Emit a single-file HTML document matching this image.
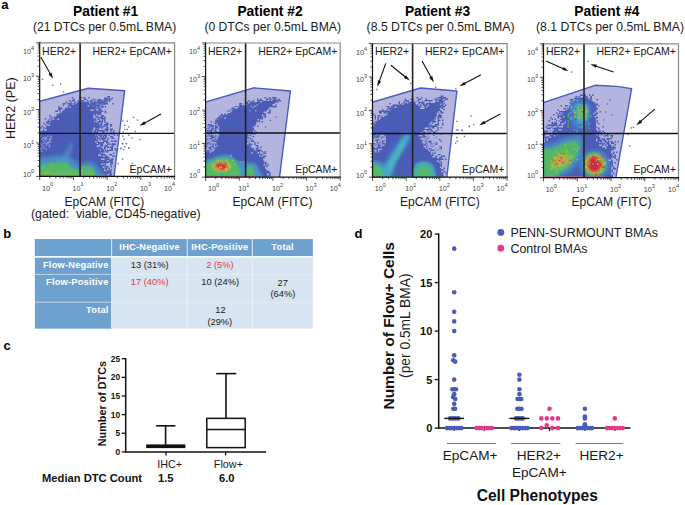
<!DOCTYPE html><html><head><meta charset="utf-8"><style>html,body{margin:0;padding:0;background:#fff;width:685px;height:505px;overflow:hidden}svg{display:block}text{font-family:"Liberation Sans",sans-serif}</style></head><body>
<svg width="685" height="505" viewBox="0 0 685 505">
<defs>
<filter id="b1" x="-20%" y="-20%" width="140%" height="140%"><feGaussianBlur stdDeviation="1"/></filter>
<filter id="b2" x="-30%" y="-30%" width="160%" height="160%"><feGaussianBlur stdDeviation="2"/></filter>
<filter id="b3" x="-30%" y="-30%" width="160%" height="160%"><feGaussianBlur stdDeviation="3"/></filter>
<marker id="ah" viewBox="0 0 10 10" refX="10" refY="5" markerWidth="6" markerHeight="6" markerUnits="userSpaceOnUse" orient="auto"><path d="M0,1 L10,5 L0,9 z" fill="#111"/></marker>
<clipPath id="cp0"><rect x="39.7" y="42.8" width="134.89999999999998" height="133.60000000000002"/></clipPath>
<clipPath id="cp1"><rect x="205.6" y="43.0" width="134.6" height="134.1"/></clipPath>
<clipPath id="cp2"><rect x="372.5" y="43.6" width="134.60000000000002" height="133.6"/></clipPath>
<clipPath id="cp3"><rect x="543.5" y="43.8" width="135.0" height="133.89999999999998"/></clipPath>
</defs>
<text x="1.20" y="9.00" font-size="13" font-weight="bold" text-anchor="start" fill="#000" >a</text>
<text x="3.20" y="238.40" font-size="13" font-weight="bold" text-anchor="start" fill="#000" >b</text>
<text x="3.60" y="350.30" font-size="13" font-weight="bold" text-anchor="start" fill="#000" >c</text>
<text x="354.40" y="238.40" font-size="13" font-weight="bold" text-anchor="start" fill="#000" >d</text>
<text x="105.60" y="15.90" font-size="13.8" font-weight="bold" text-anchor="middle" fill="#000" >Patient #1</text>
<text x="104.60" y="31.40" font-size="12.15" font-weight="normal" text-anchor="middle" fill="#1a1a1a" >(21 DTCs per 0.5mL BMA)</text>
<g clip-path="url(#cp0)">
<polygon points="38.7,101.6 88.3,88.3 124.6,90.8 113.8,178.4 38.7,178.4" fill="#b4b5de" stroke="#4b5bbd" stroke-width="1.4" stroke-linejoin="round"/>
<g fill="#4a5cb6" opacity="1.0"><rect x="71.7" y="97.0" width="1.50" height="1.5"/><rect x="79.2" y="97.0" width="3.00" height="1.5"/><rect x="83.7" y="97.0" width="1.50" height="1.5"/><rect x="88.2" y="97.0" width="1.50" height="1.5"/><rect x="73.2" y="98.5" width="1.50" height="1.5"/><rect x="83.7" y="98.5" width="3.00" height="1.5"/><rect x="92.7" y="98.5" width="1.50" height="1.5"/><rect x="109.2" y="98.5" width="1.50" height="1.5"/><rect x="68.7" y="100.0" width="1.50" height="1.5"/><rect x="71.7" y="100.0" width="3.00" height="1.5"/><rect x="77.7" y="100.0" width="1.50" height="1.5"/><rect x="80.7" y="100.0" width="3.00" height="1.5"/><rect x="86.7" y="100.0" width="1.50" height="1.5"/><rect x="89.7" y="100.0" width="3.00" height="1.5"/><rect x="97.2" y="100.0" width="3.00" height="1.5"/><rect x="65.7" y="101.5" width="1.50" height="1.5"/><rect x="70.2" y="101.5" width="1.50" height="1.5"/><rect x="74.7" y="101.5" width="1.50" height="1.5"/><rect x="88.2" y="101.5" width="4.50" height="1.5"/><rect x="94.2" y="101.5" width="1.50" height="1.5"/><rect x="106.2" y="101.5" width="1.50" height="1.5"/><rect x="62.7" y="103.0" width="3.00" height="1.5"/><rect x="67.2" y="103.0" width="4.50" height="1.5"/><rect x="91.2" y="103.0" width="4.50" height="1.5"/><rect x="103.2" y="103.0" width="4.50" height="1.5"/><rect x="112.2" y="103.0" width="1.50" height="1.5"/><rect x="62.7" y="104.5" width="1.50" height="1.5"/><rect x="58.2" y="106.0" width="1.50" height="1.5"/><rect x="94.2" y="106.0" width="1.50" height="1.5"/><rect x="101.7" y="106.0" width="1.50" height="1.5"/><rect x="104.7" y="106.0" width="1.50" height="1.5"/><rect x="58.2" y="107.5" width="4.50" height="1.5"/><rect x="94.2" y="107.5" width="3.00" height="1.5"/><rect x="58.2" y="109.0" width="3.00" height="1.5"/><rect x="98.7" y="109.0" width="3.00" height="1.5"/><rect x="55.2" y="110.5" width="3.00" height="1.5"/><rect x="59.7" y="110.5" width="1.50" height="1.5"/><rect x="94.2" y="110.5" width="4.50" height="1.5"/><rect x="100.2" y="110.5" width="3.00" height="1.5"/><rect x="104.7" y="110.5" width="1.50" height="1.5"/><rect x="94.2" y="112.0" width="7.50" height="1.5"/><rect x="104.7" y="112.0" width="1.50" height="1.5"/><rect x="56.7" y="113.5" width="1.50" height="1.5"/><rect x="97.2" y="113.5" width="3.00" height="1.5"/><rect x="49.2" y="115.0" width="1.50" height="1.5"/><rect x="94.2" y="115.0" width="1.50" height="1.5"/><rect x="50.7" y="116.5" width="1.50" height="1.5"/><rect x="53.7" y="116.5" width="1.50" height="1.5"/><rect x="95.7" y="116.5" width="3.00" height="1.5"/><rect x="100.2" y="116.5" width="3.00" height="1.5"/><rect x="44.7" y="118.0" width="1.50" height="1.5"/><rect x="49.2" y="118.0" width="1.50" height="1.5"/><rect x="52.2" y="118.0" width="1.50" height="1.5"/><rect x="94.2" y="118.0" width="1.50" height="1.5"/><rect x="98.7" y="118.0" width="1.50" height="1.5"/><rect x="47.7" y="119.5" width="1.50" height="1.5"/><rect x="50.7" y="119.5" width="1.50" height="1.5"/><rect x="94.2" y="119.5" width="1.50" height="1.5"/><rect x="101.7" y="119.5" width="1.50" height="1.5"/><rect x="46.2" y="121.0" width="4.50" height="1.5"/><rect x="95.7" y="121.0" width="1.50" height="1.5"/><rect x="98.7" y="121.0" width="4.50" height="1.5"/><rect x="43.2" y="122.5" width="1.50" height="1.5"/><rect x="46.2" y="122.5" width="3.00" height="1.5"/><rect x="94.2" y="122.5" width="6.00" height="1.5"/><rect x="44.7" y="124.0" width="1.50" height="1.5"/><rect x="94.2" y="124.0" width="3.00" height="1.5"/><rect x="98.7" y="124.0" width="3.00" height="1.5"/><rect x="106.2" y="124.0" width="1.50" height="1.5"/><rect x="110.7" y="124.0" width="1.50" height="1.5"/><rect x="41.7" y="125.5" width="1.50" height="1.5"/><rect x="46.2" y="125.5" width="1.50" height="1.5"/><rect x="94.2" y="125.5" width="7.50" height="1.5"/><rect x="106.2" y="125.5" width="1.50" height="1.5"/><rect x="40.2" y="127.0" width="1.50" height="1.5"/><rect x="43.2" y="127.0" width="1.50" height="1.5"/><rect x="94.2" y="127.0" width="6.00" height="1.5"/><rect x="101.7" y="127.0" width="1.50" height="1.5"/><rect x="106.2" y="127.0" width="1.50" height="1.5"/><rect x="38.7" y="128.5" width="1.50" height="1.5"/><rect x="43.2" y="128.5" width="1.50" height="1.5"/><rect x="95.7" y="128.5" width="3.00" height="1.5"/><rect x="104.7" y="128.5" width="1.50" height="1.5"/><rect x="94.2" y="130.0" width="1.50" height="1.5"/><rect x="97.2" y="130.0" width="7.50" height="1.5"/><rect x="94.2" y="131.5" width="1.50" height="1.5"/><rect x="103.2" y="131.5" width="1.50" height="1.5"/><rect x="110.7" y="131.5" width="1.50" height="1.5"/><rect x="95.7" y="133.0" width="3.00" height="1.5"/><rect x="106.2" y="133.0" width="1.50" height="1.5"/><rect x="110.7" y="133.0" width="1.50" height="1.5"/><rect x="95.7" y="134.5" width="1.50" height="1.5"/><rect x="98.7" y="134.5" width="3.00" height="1.5"/><rect x="103.2" y="134.5" width="3.00" height="1.5"/><rect x="113.7" y="134.5" width="1.50" height="1.5"/><rect x="116.7" y="134.5" width="1.50" height="1.5"/><rect x="95.7" y="136.0" width="1.50" height="1.5"/><rect x="100.2" y="136.0" width="1.50" height="1.5"/><rect x="104.7" y="136.0" width="1.50" height="1.5"/><rect x="97.2" y="137.5" width="3.00" height="1.5"/><rect x="101.7" y="137.5" width="4.50" height="1.5"/><rect x="107.7" y="137.5" width="1.50" height="1.5"/><rect x="101.7" y="139.0" width="3.00" height="1.5"/><rect x="97.2" y="140.5" width="1.50" height="1.5"/><rect x="103.2" y="140.5" width="4.50" height="1.5"/><rect x="110.7" y="140.5" width="1.50" height="1.5"/><rect x="113.7" y="140.5" width="3.00" height="1.5"/><rect x="97.2" y="142.0" width="6.00" height="1.5"/><rect x="106.2" y="142.0" width="3.00" height="1.5"/><rect x="97.2" y="143.5" width="1.50" height="1.5"/><rect x="100.2" y="143.5" width="3.00" height="1.5"/><rect x="109.2" y="143.5" width="1.50" height="1.5"/><rect x="112.2" y="143.5" width="3.00" height="1.5"/><rect x="100.2" y="145.0" width="3.00" height="1.5"/><rect x="104.7" y="145.0" width="3.00" height="1.5"/><rect x="112.2" y="145.0" width="1.50" height="1.5"/><rect x="98.7" y="146.5" width="1.50" height="1.5"/><rect x="104.7" y="146.5" width="1.50" height="1.5"/><rect x="107.7" y="146.5" width="1.50" height="1.5"/><rect x="98.7" y="148.0" width="4.50" height="1.5"/><rect x="110.7" y="148.0" width="1.50" height="1.5"/><rect x="116.7" y="148.0" width="1.50" height="1.5"/><rect x="98.7" y="149.5" width="1.50" height="1.5"/><rect x="104.7" y="149.5" width="1.50" height="1.5"/><rect x="109.2" y="149.5" width="3.00" height="1.5"/><rect x="115.2" y="149.5" width="1.50" height="1.5"/><rect x="100.2" y="151.0" width="4.50" height="1.5"/><rect x="101.7" y="152.5" width="1.50" height="1.5"/><rect x="100.2" y="154.0" width="4.50" height="1.5"/><rect x="109.2" y="154.0" width="3.00" height="1.5"/><rect x="100.2" y="155.5" width="3.00" height="1.5"/><rect x="104.7" y="155.5" width="3.00" height="1.5"/><rect x="112.2" y="155.5" width="3.00" height="1.5"/><rect x="100.2" y="157.0" width="9.00" height="1.5"/><rect x="104.7" y="158.5" width="1.50" height="1.5"/><rect x="110.7" y="158.5" width="3.00" height="1.5"/><rect x="101.7" y="160.0" width="4.50" height="1.5"/><rect x="109.2" y="160.0" width="3.00" height="1.5"/><rect x="101.7" y="161.5" width="7.50" height="1.5"/><rect x="101.7" y="163.0" width="1.50" height="1.5"/><rect x="104.7" y="163.0" width="1.50" height="1.5"/><rect x="110.7" y="163.0" width="1.50" height="1.5"/><rect x="103.2" y="164.5" width="3.00" height="1.5"/><rect x="103.2" y="166.0" width="1.50" height="1.5"/><rect x="106.2" y="166.0" width="1.50" height="1.5"/><rect x="110.7" y="166.0" width="1.50" height="1.5"/><rect x="104.7" y="167.5" width="3.00" height="1.5"/><rect x="104.7" y="169.0" width="1.50" height="1.5"/><rect x="110.7" y="169.0" width="1.50" height="1.5"/><rect x="106.2" y="170.5" width="4.50" height="1.5"/><rect x="106.2" y="172.0" width="4.50" height="1.5"/><rect x="106.2" y="173.5" width="1.50" height="1.5"/><rect x="109.2" y="173.5" width="3.00" height="1.5"/><rect x="107.7" y="176.5" width="4.50" height="1.5"/></g>
<g fill="#4a5cb6" opacity="1.0"><rect x="99.5" y="113.5" width="1.50" height="1.5"/><rect x="101.0" y="115.0" width="3.00" height="1.5"/><rect x="96.5" y="116.5" width="3.00" height="1.5"/><rect x="101.0" y="116.5" width="1.50" height="1.5"/><rect x="104.0" y="116.5" width="1.50" height="1.5"/><rect x="95.0" y="118.0" width="1.50" height="1.5"/><rect x="101.0" y="118.0" width="4.50" height="1.5"/><rect x="104.0" y="119.5" width="1.50" height="1.5"/><rect x="104.0" y="121.0" width="1.50" height="1.5"/><rect x="101.0" y="122.5" width="1.50" height="1.5"/><rect x="105.5" y="122.5" width="3.00" height="1.5"/><rect x="95.0" y="124.0" width="1.50" height="1.5"/><rect x="101.0" y="124.0" width="1.50" height="1.5"/><rect x="104.0" y="124.0" width="4.50" height="1.5"/><rect x="110.0" y="124.0" width="1.50" height="1.5"/><rect x="102.5" y="125.5" width="3.00" height="1.5"/><rect x="110.0" y="125.5" width="1.50" height="1.5"/><rect x="101.0" y="127.0" width="1.50" height="1.5"/><rect x="107.0" y="127.0" width="1.50" height="1.5"/><rect x="95.0" y="128.5" width="1.50" height="1.5"/><rect x="105.5" y="128.5" width="3.00" height="1.5"/><rect x="110.0" y="128.5" width="3.00" height="1.5"/><rect x="95.0" y="130.0" width="1.50" height="1.5"/><rect x="101.0" y="130.0" width="1.50" height="1.5"/><rect x="105.5" y="130.0" width="3.00" height="1.5"/><rect x="110.0" y="130.0" width="1.50" height="1.5"/><rect x="113.0" y="130.0" width="1.50" height="1.5"/><rect x="96.5" y="131.5" width="1.50" height="1.5"/><rect x="102.5" y="131.5" width="1.50" height="1.5"/><rect x="113.0" y="131.5" width="1.50" height="1.5"/><rect x="95.0" y="133.0" width="1.50" height="1.5"/><rect x="101.0" y="133.0" width="1.50" height="1.5"/><rect x="105.5" y="133.0" width="1.50" height="1.5"/><rect x="110.0" y="133.0" width="4.50" height="1.5"/><rect x="98.0" y="134.5" width="1.50" height="1.5"/><rect x="101.0" y="134.5" width="1.50" height="1.5"/><rect x="105.5" y="134.5" width="1.50" height="1.5"/><rect x="108.5" y="134.5" width="1.50" height="1.5"/><rect x="96.5" y="136.0" width="1.50" height="1.5"/><rect x="99.5" y="136.0" width="1.50" height="1.5"/><rect x="102.5" y="136.0" width="1.50" height="1.5"/><rect x="105.5" y="136.0" width="1.50" height="1.5"/><rect x="110.0" y="136.0" width="3.00" height="1.5"/><rect x="101.0" y="137.5" width="1.50" height="1.5"/><rect x="104.0" y="137.5" width="1.50" height="1.5"/><rect x="111.5" y="137.5" width="3.00" height="1.5"/><rect x="96.5" y="139.0" width="1.50" height="1.5"/><rect x="99.5" y="139.0" width="1.50" height="1.5"/><rect x="107.0" y="139.0" width="1.50" height="1.5"/><rect x="104.0" y="140.5" width="3.00" height="1.5"/><rect x="111.5" y="140.5" width="1.50" height="1.5"/><rect x="114.5" y="140.5" width="1.50" height="1.5"/><rect x="96.5" y="142.0" width="4.50" height="1.5"/><rect x="102.5" y="142.0" width="1.50" height="1.5"/><rect x="98.0" y="143.5" width="1.50" height="1.5"/><rect x="101.0" y="143.5" width="1.50" height="1.5"/><rect x="107.0" y="143.5" width="1.50" height="1.5"/><rect x="111.5" y="143.5" width="4.50" height="1.5"/><rect x="101.0" y="145.0" width="1.50" height="1.5"/><rect x="111.5" y="145.0" width="1.50" height="1.5"/><rect x="99.5" y="146.5" width="1.50" height="1.5"/><rect x="104.0" y="146.5" width="1.50" height="1.5"/><rect x="107.0" y="146.5" width="1.50" height="1.5"/><rect x="110.0" y="146.5" width="3.00" height="1.5"/><rect x="104.0" y="148.0" width="1.50" height="1.5"/><rect x="111.5" y="148.0" width="1.50" height="1.5"/><rect x="114.5" y="148.0" width="1.50" height="1.5"/><rect x="101.0" y="149.5" width="3.00" height="1.5"/><rect x="107.0" y="149.5" width="1.50" height="1.5"/><rect x="111.5" y="149.5" width="1.50" height="1.5"/><rect x="99.5" y="151.0" width="1.50" height="1.5"/><rect x="105.5" y="151.0" width="3.00" height="1.5"/><rect x="99.5" y="152.5" width="1.50" height="1.5"/><rect x="113.0" y="152.5" width="1.50" height="1.5"/><rect x="99.5" y="154.0" width="1.50" height="1.5"/><rect x="104.0" y="154.0" width="1.50" height="1.5"/><rect x="104.0" y="157.0" width="1.50" height="1.5"/><rect x="105.5" y="158.5" width="4.50" height="1.5"/><rect x="111.5" y="158.5" width="1.50" height="1.5"/><rect x="101.0" y="160.0" width="1.50" height="1.5"/><rect x="104.0" y="160.0" width="3.00" height="1.5"/><rect x="108.5" y="160.0" width="4.50" height="1.5"/><rect x="101.0" y="161.5" width="1.50" height="1.5"/><rect x="104.0" y="161.5" width="4.50" height="1.5"/><rect x="110.0" y="161.5" width="3.00" height="1.5"/><rect x="111.5" y="163.0" width="1.50" height="1.5"/><rect x="102.5" y="164.5" width="1.50" height="1.5"/><rect x="110.0" y="164.5" width="1.50" height="1.5"/><rect x="105.5" y="166.0" width="3.00" height="1.5"/><rect x="102.5" y="167.5" width="1.50" height="1.5"/><rect x="105.5" y="167.5" width="1.50" height="1.5"/><rect x="108.5" y="167.5" width="1.50" height="1.5"/><rect x="102.5" y="169.0" width="1.50" height="1.5"/><rect x="105.5" y="169.0" width="1.50" height="1.5"/><rect x="108.5" y="169.0" width="1.50" height="1.5"/><rect x="102.5" y="170.5" width="1.50" height="1.5"/><rect x="110.0" y="170.5" width="1.50" height="1.5"/><rect x="107.0" y="172.0" width="1.50" height="1.5"/><rect x="110.0" y="172.0" width="1.50" height="1.5"/><rect x="104.0" y="173.5" width="1.50" height="1.5"/><rect x="104.0" y="175.0" width="3.00" height="1.5"/><rect x="108.5" y="175.0" width="3.00" height="1.5"/></g>
<polygon points="38.7,132.0 43.5,130.0 47.9,125.5 52.5,119.5 57.8,114.7 62.5,110.0 67.7,105.7 72.5,103.3 77.6,101.8 82.0,101.5 86.0,101.8 89.5,102.5 92.3,104.0 94.2,107.0 94.5,114.0 94.0,122.0 95.0,133.5 98.0,145.0 100.8,157.7 103.0,166.0 106.0,172.0 108.0,178.4 38.7,178.4" fill="#4a5cb6"/>
<g fill="#b4b5de" opacity="1.0"><rect x="75.5" y="102.0" width="1.50" height="1.5"/><rect x="89.0" y="102.0" width="1.50" height="1.5"/><rect x="72.5" y="103.5" width="1.50" height="1.5"/><rect x="90.5" y="103.5" width="1.50" height="1.5"/><rect x="87.5" y="105.0" width="1.50" height="1.5"/><rect x="66.5" y="106.5" width="1.50" height="1.5"/><rect x="69.5" y="106.5" width="1.50" height="1.5"/><rect x="92.0" y="106.5" width="1.50" height="1.5"/><rect x="63.5" y="108.0" width="1.50" height="1.5"/><rect x="62.0" y="109.5" width="1.50" height="1.5"/><rect x="90.5" y="109.5" width="4.50" height="1.5"/><rect x="60.5" y="111.0" width="1.50" height="1.5"/><rect x="93.5" y="114.0" width="1.50" height="1.5"/><rect x="93.5" y="115.5" width="1.50" height="1.5"/><rect x="93.5" y="117.0" width="1.50" height="1.5"/><rect x="53.0" y="118.5" width="1.50" height="1.5"/><rect x="57.5" y="118.5" width="1.50" height="1.5"/><rect x="48.5" y="124.5" width="1.50" height="1.5"/><rect x="93.5" y="127.5" width="1.50" height="1.5"/><rect x="44.0" y="129.0" width="3.00" height="1.5"/><rect x="93.5" y="129.0" width="1.50" height="1.5"/><rect x="92.0" y="130.5" width="1.50" height="1.5"/><rect x="93.5" y="132.0" width="1.50" height="1.5"/><rect x="95.0" y="141.0" width="1.50" height="1.5"/><rect x="96.5" y="142.5" width="1.50" height="1.5"/><rect x="96.5" y="145.5" width="1.50" height="1.5"/><rect x="98.0" y="154.5" width="3.00" height="1.5"/><rect x="101.0" y="163.5" width="1.50" height="1.5"/><rect x="102.5" y="166.5" width="1.50" height="1.5"/><rect x="104.0" y="169.5" width="1.50" height="1.5"/></g>
<g fill="#4a5cb6" opacity="1.0"><rect x="107.0" y="96.0" width="3.00" height="1.5"/><rect x="104.0" y="97.5" width="3.00" height="1.5"/><rect x="108.5" y="97.5" width="1.50" height="1.5"/><rect x="111.5" y="97.5" width="1.50" height="1.5"/><rect x="95.0" y="99.0" width="1.50" height="1.5"/><rect x="98.0" y="99.0" width="3.00" height="1.5"/><rect x="108.5" y="99.0" width="3.00" height="1.5"/><rect x="93.5" y="100.5" width="1.50" height="1.5"/><rect x="108.5" y="100.5" width="1.50" height="1.5"/><rect x="90.5" y="102.0" width="1.50" height="1.5"/><rect x="104.0" y="102.0" width="1.50" height="1.5"/><rect x="87.5" y="103.5" width="1.50" height="1.5"/><rect x="101.0" y="103.5" width="1.50" height="1.5"/><rect x="90.5" y="105.0" width="3.00" height="1.5"/><rect x="98.0" y="105.0" width="1.50" height="1.5"/><rect x="92.0" y="106.5" width="3.00" height="1.5"/><rect x="98.0" y="106.5" width="1.50" height="1.5"/><rect x="93.5" y="109.5" width="1.50" height="1.5"/></g>
<polygon points="89.0,104.0 96.0,101.5 103.0,99.5 109.0,97.5 108.0,100.5 102.0,103.5 96.0,107.0" fill="#4a5cb6" opacity="0.7"/>
<g fill="#8e95d0" opacity="1.0"><rect x="39.7" y="135.5" width="1.50" height="1.5"/><rect x="47.2" y="135.5" width="1.50" height="1.5"/><rect x="50.2" y="135.5" width="1.50" height="1.5"/><rect x="42.7" y="137.0" width="4.50" height="1.5"/><rect x="50.2" y="137.0" width="1.50" height="1.5"/><rect x="41.2" y="138.5" width="1.50" height="1.5"/><rect x="44.2" y="138.5" width="3.00" height="1.5"/><rect x="48.7" y="138.5" width="3.00" height="1.5"/><rect x="42.7" y="140.0" width="1.50" height="1.5"/><rect x="48.7" y="140.0" width="1.50" height="1.5"/><rect x="44.2" y="141.5" width="1.50" height="1.5"/><rect x="47.2" y="141.5" width="4.50" height="1.5"/><rect x="39.7" y="143.0" width="1.50" height="1.5"/><rect x="42.7" y="143.0" width="1.50" height="1.5"/><rect x="45.7" y="143.0" width="3.00" height="1.5"/><rect x="41.2" y="144.5" width="1.50" height="1.5"/><rect x="45.7" y="144.5" width="1.50" height="1.5"/><rect x="48.7" y="144.5" width="1.50" height="1.5"/><rect x="42.7" y="146.0" width="1.50" height="1.5"/><rect x="48.7" y="146.0" width="1.50" height="1.5"/><rect x="39.7" y="147.5" width="3.00" height="1.5"/><rect x="44.2" y="147.5" width="1.50" height="1.5"/><rect x="39.7" y="149.0" width="1.50" height="1.5"/><rect x="45.7" y="149.0" width="1.50" height="1.5"/><rect x="41.2" y="150.5" width="1.50" height="1.5"/></g>
<g fill="#8e95d0" opacity="1.0"><rect x="96.0" y="112.5" width="1.50" height="1.5"/><rect x="96.0" y="117.0" width="1.50" height="1.5"/><rect x="96.0" y="120.0" width="1.50" height="1.5"/><rect x="96.0" y="121.5" width="3.00" height="1.5"/><rect x="99.0" y="123.0" width="1.50" height="1.5"/></g>
<g fill="#4a5cb6" opacity="1.0"><rect x="105.0" y="99.0" width="3.00" height="1.5"/><rect x="100.5" y="100.5" width="1.50" height="1.5"/><rect x="103.5" y="100.5" width="3.00" height="1.5"/><rect x="97.5" y="102.0" width="7.50" height="1.5"/><rect x="93.0" y="103.5" width="3.00" height="1.5"/><rect x="100.5" y="103.5" width="1.50" height="1.5"/><rect x="103.5" y="103.5" width="1.50" height="1.5"/><rect x="94.5" y="105.0" width="6.00" height="1.5"/><rect x="102.0" y="105.0" width="1.50" height="1.5"/><rect x="97.5" y="106.5" width="1.50" height="1.5"/><rect x="100.5" y="106.5" width="3.00" height="1.5"/><rect x="94.5" y="108.0" width="1.50" height="1.5"/><rect x="97.5" y="108.0" width="3.00" height="1.5"/><rect x="94.5" y="109.5" width="1.50" height="1.5"/><rect x="99.0" y="109.5" width="1.50" height="1.5"/><rect x="99.0" y="111.0" width="1.50" height="1.5"/><rect x="94.5" y="112.5" width="3.00" height="1.5"/><rect x="99.0" y="112.5" width="1.50" height="1.5"/><rect x="94.5" y="114.0" width="1.50" height="1.5"/><rect x="96.0" y="115.5" width="1.50" height="1.5"/><rect x="97.5" y="118.5" width="1.50" height="1.5"/><rect x="99.0" y="120.0" width="1.50" height="1.5"/><rect x="94.5" y="121.5" width="1.50" height="1.5"/><rect x="97.5" y="121.5" width="1.50" height="1.5"/><rect x="94.5" y="123.0" width="4.50" height="1.5"/><rect x="94.5" y="124.5" width="4.50" height="1.5"/><rect x="96.0" y="126.0" width="3.00" height="1.5"/><rect x="96.0" y="129.0" width="3.00" height="1.5"/><rect x="94.5" y="130.5" width="1.50" height="1.5"/><rect x="94.5" y="132.0" width="3.00" height="1.5"/></g>
<path d="M61.0,162.0 C60.7,160.2 63.7,154.8 65.0,152.0 C66.3,149.2 67.8,146.7 69.0,145.0 C70.2,143.3 71.3,141.7 72.0,142.0 C72.7,142.3 73.3,144.7 73.0,147.0 C72.7,149.3 71.0,153.3 70.0,156.0 C69.0,158.7 68.5,162.0 67.0,163.0 C65.5,164.0 61.3,163.8 61.0,162.0Z" fill="#5a90d0" opacity="0.55" filter="url(#b1)"/>
<path d="M37.7,160.0 C39.4,156.3 44.6,158.2 48.0,157.5 C51.4,156.8 54.8,155.7 58.0,155.5 C61.2,155.3 64.3,155.8 67.0,156.5 C69.7,157.2 72.0,158.7 74.0,160.0 C76.0,161.3 76.8,164.2 79.0,164.5 C81.2,164.8 84.3,162.1 87.0,162.0 C89.7,161.9 93.0,162.7 95.0,164.0 C97.0,165.3 98.2,167.4 99.0,170.0 C99.8,172.6 110.2,177.8 100.0,179.4 C89.8,181.0 48.1,182.6 37.7,179.4 C27.3,176.2 36.0,163.7 37.7,160.0Z" fill="#47a2cf" opacity="0.75" filter="url(#b2)"/>
<path d="M37.7,166.5 C39.1,163.9 43.1,164.7 46.0,164.0 C48.9,163.3 52.2,162.8 55.0,162.5 C57.8,162.2 60.7,162.2 63.0,162.5 C65.3,162.8 67.2,163.5 69.0,164.5 C70.8,165.5 72.3,167.4 74.0,168.5 C75.7,169.6 78.2,169.2 79.0,171.0 C79.8,172.8 85.9,178.0 79.0,179.4 C72.1,180.8 44.6,181.6 37.7,179.4 C30.8,177.2 36.3,169.1 37.7,166.5Z" fill="#56bd5d" opacity="0.9" filter="url(#b1)"/>
<path d="M81.0,167.0 C81.8,164.8 84.2,165.9 86.0,166.0 C87.8,166.1 90.5,166.7 92.0,167.5 C93.5,168.3 94.7,169.0 95.0,171.0 C95.3,173.0 96.3,178.0 94.0,179.4 C91.7,180.8 83.2,181.5 81.0,179.4 C78.8,177.3 80.2,169.2 81.0,167.0Z" fill="#56bd5d" opacity="0.9" filter="url(#b1)"/>
<rect x="39.7" y="171.9" width="55" height="3.5" fill="#8ec84a" opacity="0.35" filter="url(#b1)"/>
<g fill="#47aacc" opacity="0.9"><rect x="45.7" y="164.0" width="1.5" height="1.5"/><rect x="44.2" y="165.5" width="1.5" height="1.5"/><rect x="69.7" y="167.0" width="1.5" height="1.5"/><rect x="66.7" y="168.5" width="1.5" height="1.5"/><rect x="71.2" y="168.5" width="1.5" height="1.5"/><rect x="71.2" y="170.0" width="1.5" height="1.5"/><rect x="65.2" y="171.5" width="1.5" height="1.5"/><rect x="57.7" y="174.5" width="1.5" height="1.5"/><rect x="75.7" y="174.5" width="1.5" height="1.5"/></g><g fill="#8cc84a" opacity="0.9"><rect x="50.2" y="164.0" width="1.5" height="1.5"/><rect x="42.7" y="167.0" width="1.5" height="1.5"/><rect x="47.2" y="168.5" width="1.5" height="1.5"/><rect x="60.7" y="168.5" width="1.5" height="1.5"/><rect x="45.7" y="171.5" width="1.5" height="1.5"/><rect x="44.2" y="173.0" width="1.5" height="1.5"/><rect x="39.7" y="174.5" width="1.5" height="1.5"/></g><g fill="#5cbf55" opacity="0.9"><rect x="57.7" y="167.0" width="1.5" height="1.5"/><rect x="41.2" y="170.0" width="1.5" height="1.5"/><rect x="65.2" y="170.0" width="1.5" height="1.5"/><rect x="77.2" y="170.0" width="1.5" height="1.5"/><rect x="56.2" y="171.5" width="1.5" height="1.5"/><rect x="69.7" y="171.5" width="1.5" height="1.5"/><rect x="60.7" y="173.0" width="1.5" height="1.5"/></g>
<g fill="#47aacc" opacity="0.9"><rect x="90.0" y="167.0" width="1.5" height="1.5"/><rect x="82.5" y="168.5" width="1.5" height="1.5"/><rect x="87.0" y="170.0" width="1.5" height="1.5"/><rect x="85.5" y="171.5" width="1.5" height="1.5"/><rect x="93.0" y="174.5" width="1.5" height="1.5"/></g><g fill="#8cc84a" opacity="0.9"><rect x="81.0" y="170.0" width="1.5" height="1.5"/><rect x="91.5" y="173.0" width="1.5" height="1.5"/></g>
<rect x="39.7" y="174.8" width="12" height="1.6" fill="#c86a8e" opacity="0.85"/>
<rect x="51.7" y="174.8" width="58" height="1.6" fill="#b9a26a" opacity="0.6"/>
<g fill="#4a5cb6" opacity="0.85"><rect x="41.8" y="78.7" width="1.4" height="1.4"/><rect x="52.0" y="84.6" width="1.4" height="1.4"/><rect x="59.9" y="83.5" width="1.4" height="1.4"/><rect x="62.9" y="91.2" width="1.4" height="1.4"/><rect x="132.8" y="116.6" width="1.4" height="1.4"/><rect x="126.6" y="120.6" width="1.4" height="1.4"/><rect x="122.2" y="120.1" width="1.4" height="1.4"/><rect x="124.0" y="124.5" width="1.4" height="1.4"/><rect x="128.1" y="126.2" width="1.4" height="1.4"/><rect x="124.0" y="128.7" width="1.4" height="1.4"/><rect x="126.6" y="128.7" width="1.4" height="1.4"/><rect x="134.5" y="130.8" width="1.4" height="1.4"/><rect x="122.5" y="131.0" width="1.4" height="1.4"/><rect x="128.1" y="134.4" width="1.4" height="1.4"/><rect x="122.2" y="135.4" width="1.4" height="1.4"/><rect x="131.3" y="137.4" width="1.4" height="1.4"/><rect x="123.5" y="138.7" width="1.4" height="1.4"/><rect x="125.6" y="142.9" width="1.4" height="1.4"/><rect x="121.7" y="142.9" width="1.4" height="1.4"/><rect x="124.2" y="146.3" width="1.4" height="1.4"/><rect x="128.1" y="147.5" width="1.4" height="1.4"/><rect x="120.2" y="147.8" width="1.4" height="1.4"/><rect x="121.9" y="142.9" width="1.4" height="1.4"/><rect x="125.8" y="142.9" width="1.4" height="1.4"/><rect x="120.1" y="147.6" width="1.4" height="1.4"/><rect x="123.1" y="148.8" width="1.4" height="1.4"/><rect x="128.2" y="147.2" width="1.4" height="1.4"/><rect x="121.9" y="158.3" width="1.4" height="1.4"/><rect x="117.5" y="163.1" width="1.4" height="1.4"/><rect x="131.8" y="162.7" width="1.4" height="1.4"/><rect x="139.3" y="138.9" width="1.4" height="1.4"/><rect x="136.8" y="119.3" width="1.4" height="1.4"/></g>
<line x1="40.8" y1="57.1" x2="50.5" y2="74.2" stroke="#111" stroke-width="1.1"/><polygon points="53.1,78.8 48.5,74.2 51.5,72.5" fill="#111"/>
<line x1="161.0" y1="114.1" x2="144.2" y2="123.2" stroke="#111" stroke-width="1.1"/><polygon points="139.5,125.7 144.2,121.2 145.9,124.2" fill="#111"/>
</g>
<line x1="80.1" y1="42.8" x2="80.1" y2="176.4" stroke="#222" stroke-width="1.6"/>
<line x1="39.7" y1="133.4" x2="174.6" y2="133.4" stroke="#111" stroke-width="1.3"/>
<path d="M39.7,42.8 H174.6 V176.4" fill="none" stroke="#888" stroke-width="1.2"/>
<path d="M39.7,42.199999999999996 V176.4 H175.2" fill="none" stroke="#111" stroke-width="1.2"/>
<path d="M39.70,176.4 v3.6 M39.7,176.40 h-3.6 M49.85,176.4 v2 M39.7,166.35 h-2 M55.79,176.4 v2 M39.7,160.46 h-2 M60.00,176.4 v2 M39.7,156.29 h-2 M63.27,176.4 v2 M39.7,153.05 h-2 M65.94,176.4 v2 M39.7,150.41 h-2 M68.20,176.4 v2 M39.7,148.17 h-2 M70.16,176.4 v2 M39.7,146.24 h-2 M71.88,176.4 v2 M39.7,144.53 h-2 M73.42,176.4 v3.6 M39.7,143.00 h-3.6 M83.58,176.4 v2 M39.7,132.95 h-2 M89.52,176.4 v2 M39.7,127.06 h-2 M93.73,176.4 v2 M39.7,122.89 h-2 M97.00,176.4 v2 M39.7,119.65 h-2 M99.67,176.4 v2 M39.7,117.01 h-2 M101.93,176.4 v2 M39.7,114.77 h-2 M103.88,176.4 v2 M39.7,112.84 h-2 M105.61,176.4 v2 M39.7,111.13 h-2 M107.15,176.4 v3.6 M39.7,109.60 h-3.6 M117.30,176.4 v2 M39.7,99.55 h-2 M123.24,176.4 v2 M39.7,93.66 h-2 M127.45,176.4 v2 M39.7,89.49 h-2 M130.72,176.4 v2 M39.7,86.25 h-2 M133.39,176.4 v2 M39.7,83.61 h-2 M135.65,176.4 v2 M39.7,81.37 h-2 M137.61,176.4 v2 M39.7,79.44 h-2 M139.33,176.4 v2 M39.7,77.73 h-2 M140.88,176.4 v3.6 M39.7,76.20 h-3.6 M151.03,176.4 v2 M39.7,66.15 h-2 M156.97,176.4 v2 M39.7,60.26 h-2 M161.18,176.4 v2 M39.7,56.09 h-2 M164.45,176.4 v2 M39.7,52.85 h-2 M167.12,176.4 v2 M39.7,50.21 h-2 M169.38,176.4 v2 M39.7,47.97 h-2 M171.33,176.4 v2 M39.7,46.04 h-2 M173.06,176.4 v2 M39.7,44.33 h-2 M174.60,176.4 v3.6 M39.7,42.80 h-3.6" stroke="#222" stroke-width="0.8" fill="none"/>
<text x="42.00" y="190.60" font-size="7.2" fill="#444">10<tspan dy="-4.2" font-size="5.6">0</tspan></text>
<text x="72.42" y="190.60" font-size="7.2" fill="#444">10<tspan dy="-4.2" font-size="5.6">1</tspan></text>
<text x="106.15" y="190.60" font-size="7.2" fill="#444">10<tspan dy="-4.2" font-size="5.6">2</tspan></text>
<text x="139.88" y="190.60" font-size="7.2" fill="#444">10<tspan dy="-4.2" font-size="5.6">3</tspan></text>
<text x="164.10" y="190.60" font-size="7.2" fill="#444">10<tspan dy="-4.2" font-size="5.6">4</tspan></text>
<text x="23.10" y="176.90" font-size="7.2" fill="#444">10<tspan dy="-4.2" font-size="5.6">0</tspan></text>
<text x="23.10" y="148.20" font-size="7.2" fill="#444">10<tspan dy="-4.2" font-size="5.6">1</tspan></text>
<text x="23.10" y="114.80" font-size="7.2" fill="#444">10<tspan dy="-4.2" font-size="5.6">2</tspan></text>
<text x="23.10" y="81.40" font-size="7.2" fill="#444">10<tspan dy="-4.2" font-size="5.6">3</tspan></text>
<text x="23.10" y="53.90" font-size="7.2" fill="#444">10<tspan dy="-4.2" font-size="5.6">4</tspan></text>
<text x="42.10" y="55.10" font-size="10.5" font-weight="normal" text-anchor="start" fill="#1a1a1a" >HER2+</text>
<text x="171.90" y="55.10" font-size="10.5" font-weight="normal" text-anchor="end" fill="#1a1a1a" >HER2+ EpCAM+</text>
<text x="171.90" y="173.00" font-size="10.5" font-weight="normal" text-anchor="end" fill="#1a1a1a" >EpCAM+</text>
<text x="104.40" y="205.90" font-size="12.1" font-weight="normal" text-anchor="middle" fill="#1a1a1a" >EpCAM (FITC)</text>
<text x="270.00" y="15.90" font-size="13.8" font-weight="bold" text-anchor="middle" fill="#000" >Patient #2</text>
<text x="272.70" y="31.40" font-size="12.15" font-weight="normal" text-anchor="middle" fill="#1a1a1a" >(0 DTCs per 0.5mL BMA)</text>
<g clip-path="url(#cp1)">
<polygon points="204.6,102.3 253.6,87.8 290.4,91.0 279.3,179.1 204.6,179.1" fill="#b4b5de" stroke="#4b5bbd" stroke-width="1.4" stroke-linejoin="round"/>
<g fill="#4a5cb6" opacity="1.0"><rect x="264.6" y="97.0" width="1.50" height="1.5"/><rect x="269.1" y="97.0" width="1.50" height="1.5"/><rect x="272.1" y="97.0" width="4.50" height="1.5"/><rect x="257.1" y="98.5" width="1.50" height="1.5"/><rect x="260.1" y="98.5" width="1.50" height="1.5"/><rect x="266.1" y="98.5" width="6.00" height="1.5"/><rect x="273.6" y="98.5" width="1.50" height="1.5"/><rect x="278.1" y="98.5" width="1.50" height="1.5"/><rect x="248.1" y="100.0" width="1.50" height="1.5"/><rect x="252.6" y="100.0" width="1.50" height="1.5"/><rect x="257.1" y="100.0" width="6.00" height="1.5"/><rect x="278.1" y="100.0" width="3.00" height="1.5"/><rect x="246.6" y="101.5" width="1.50" height="1.5"/><rect x="249.6" y="101.5" width="4.50" height="1.5"/><rect x="276.6" y="101.5" width="1.50" height="1.5"/><rect x="239.1" y="103.0" width="3.00" height="1.5"/><rect x="245.1" y="103.0" width="3.00" height="1.5"/><rect x="239.1" y="104.5" width="3.00" height="1.5"/><rect x="272.1" y="104.5" width="1.50" height="1.5"/><rect x="275.1" y="104.5" width="1.50" height="1.5"/><rect x="234.6" y="106.0" width="3.00" height="1.5"/><rect x="270.6" y="106.0" width="6.00" height="1.5"/><rect x="231.6" y="107.5" width="3.00" height="1.5"/><rect x="230.1" y="109.0" width="1.50" height="1.5"/><rect x="269.1" y="109.0" width="1.50" height="1.5"/><rect x="227.1" y="110.5" width="3.00" height="1.5"/><rect x="269.1" y="110.5" width="1.50" height="1.5"/><rect x="267.6" y="112.0" width="3.00" height="1.5"/><rect x="221.1" y="113.5" width="1.50" height="1.5"/><rect x="224.1" y="113.5" width="1.50" height="1.5"/><rect x="264.6" y="113.5" width="1.50" height="1.5"/><rect x="219.6" y="115.0" width="4.50" height="1.5"/><rect x="263.1" y="115.0" width="3.00" height="1.5"/><rect x="218.1" y="116.5" width="3.00" height="1.5"/><rect x="261.6" y="116.5" width="1.50" height="1.5"/><rect x="264.6" y="116.5" width="1.50" height="1.5"/><rect x="216.6" y="118.0" width="3.00" height="1.5"/><rect x="260.1" y="118.0" width="3.00" height="1.5"/><rect x="215.1" y="119.5" width="3.00" height="1.5"/><rect x="258.6" y="119.5" width="1.50" height="1.5"/><rect x="210.6" y="121.0" width="1.50" height="1.5"/><rect x="215.1" y="121.0" width="1.50" height="1.5"/><rect x="258.6" y="121.0" width="1.50" height="1.5"/><rect x="261.6" y="121.0" width="1.50" height="1.5"/><rect x="213.6" y="122.5" width="1.50" height="1.5"/><rect x="207.6" y="124.0" width="4.50" height="1.5"/><rect x="207.6" y="125.5" width="3.00" height="1.5"/><rect x="257.1" y="125.5" width="1.50" height="1.5"/><rect x="254.1" y="130.0" width="1.50" height="1.5"/><rect x="255.6" y="131.5" width="1.50" height="1.5"/><rect x="251.1" y="133.0" width="4.50" height="1.5"/><rect x="249.6" y="134.5" width="1.50" height="1.5"/><rect x="252.6" y="136.0" width="1.50" height="1.5"/><rect x="248.1" y="137.5" width="3.00" height="1.5"/><rect x="248.1" y="139.0" width="1.50" height="1.5"/><rect x="251.1" y="139.0" width="1.50" height="1.5"/><rect x="246.6" y="140.5" width="3.00" height="1.5"/><rect x="251.1" y="140.5" width="3.00" height="1.5"/><rect x="248.1" y="142.0" width="1.50" height="1.5"/><rect x="254.1" y="142.0" width="1.50" height="1.5"/><rect x="257.1" y="142.0" width="1.50" height="1.5"/><rect x="248.1" y="143.5" width="4.50" height="1.5"/><rect x="254.1" y="143.5" width="1.50" height="1.5"/><rect x="249.6" y="145.0" width="1.50" height="1.5"/><rect x="255.6" y="145.0" width="3.00" height="1.5"/><rect x="257.1" y="146.5" width="1.50" height="1.5"/><rect x="260.1" y="146.5" width="1.50" height="1.5"/><rect x="252.6" y="148.0" width="1.50" height="1.5"/><rect x="255.6" y="148.0" width="3.00" height="1.5"/><rect x="255.6" y="149.5" width="6.00" height="1.5"/><rect x="257.1" y="151.0" width="3.00" height="1.5"/><rect x="261.6" y="151.0" width="1.50" height="1.5"/><rect x="264.6" y="151.0" width="1.50" height="1.5"/><rect x="258.6" y="152.5" width="1.50" height="1.5"/><rect x="263.1" y="152.5" width="3.00" height="1.5"/><rect x="260.1" y="154.0" width="3.00" height="1.5"/><rect x="263.1" y="155.5" width="3.00" height="1.5"/><rect x="261.6" y="157.0" width="3.00" height="1.5"/><rect x="264.6" y="161.5" width="1.50" height="1.5"/><rect x="264.6" y="163.0" width="3.00" height="1.5"/><rect x="264.6" y="164.5" width="1.50" height="1.5"/><rect x="267.6" y="164.5" width="1.50" height="1.5"/><rect x="266.1" y="166.0" width="1.50" height="1.5"/><rect x="266.1" y="170.5" width="3.00" height="1.5"/><rect x="266.1" y="172.0" width="4.50" height="1.5"/><rect x="269.1" y="173.5" width="1.50" height="1.5"/><rect x="267.6" y="175.0" width="3.00" height="1.5"/></g>
<polygon points="204.6,130.0 212.0,125.2 219.8,118.8 227.8,112.4 235.7,107.7 242.0,105.3 245.4,104.5 250.0,103.0 256.0,102.0 263.0,101.0 270.0,100.0 276.5,99.0 278.0,100.5 272.0,106.0 266.0,112.5 260.0,119.0 255.5,125.0 253.0,131.7 250.0,135.0 247.5,139.0 247.0,142.0 250.0,146.0 254.0,150.0 258.5,152.2 262.0,157.0 264.5,163.1 266.5,170.0 267.5,179.1 204.6,179.1" fill="#4a5cb6"/>
<g fill="#b4b5de" opacity="1.0"><rect x="268.0" y="99.5" width="1.50" height="1.5"/><rect x="271.0" y="99.5" width="1.50" height="1.5"/><rect x="260.5" y="101.0" width="1.50" height="1.5"/><rect x="244.0" y="104.0" width="3.00" height="1.5"/><rect x="272.5" y="104.0" width="1.50" height="1.5"/><rect x="235.0" y="107.0" width="3.00" height="1.5"/><rect x="269.5" y="107.0" width="1.50" height="1.5"/><rect x="268.0" y="108.5" width="1.50" height="1.5"/><rect x="230.5" y="110.0" width="1.50" height="1.5"/><rect x="266.5" y="110.0" width="1.50" height="1.5"/><rect x="227.5" y="111.5" width="3.00" height="1.5"/><rect x="263.5" y="111.5" width="3.00" height="1.5"/><rect x="226.0" y="113.0" width="1.50" height="1.5"/><rect x="262.0" y="114.5" width="1.50" height="1.5"/><rect x="224.5" y="117.5" width="1.50" height="1.5"/><rect x="257.5" y="119.0" width="1.50" height="1.5"/><rect x="256.0" y="122.0" width="1.50" height="1.5"/><rect x="212.5" y="123.5" width="3.00" height="1.5"/><rect x="253.0" y="126.5" width="1.50" height="1.5"/><rect x="248.5" y="134.0" width="1.50" height="1.5"/><rect x="247.0" y="143.0" width="1.50" height="1.5"/><rect x="251.5" y="152.0" width="1.50" height="1.5"/><rect x="257.5" y="152.0" width="1.50" height="1.5"/><rect x="259.0" y="155.0" width="1.50" height="1.5"/><rect x="263.5" y="164.0" width="1.50" height="1.5"/><rect x="265.0" y="167.0" width="1.50" height="1.5"/></g>
<g fill="#8e95d0" opacity="1.0"><rect x="256.5" y="104.0" width="1.50" height="1.5"/><rect x="250.5" y="105.5" width="1.50" height="1.5"/><rect x="253.5" y="105.5" width="3.00" height="1.5"/><rect x="252.0" y="107.0" width="1.50" height="1.5"/><rect x="249.0" y="110.0" width="1.50" height="1.5"/><rect x="255.0" y="110.0" width="1.50" height="1.5"/></g>
<g fill="#8e95d0" opacity="1.0"><rect x="247.5" y="135.5" width="1.50" height="1.5"/><rect x="250.5" y="135.5" width="1.50" height="1.5"/><rect x="249.0" y="137.0" width="1.50" height="1.5"/><rect x="247.5" y="138.5" width="3.00" height="1.5"/><rect x="247.5" y="140.0" width="3.00" height="1.5"/><rect x="247.5" y="141.5" width="1.50" height="1.5"/></g>
<g fill="#a9aedd" opacity="1.0"><rect x="216.4" y="123.2" width="1.35" height="1.35"/><rect x="213.7" y="124.5" width="1.35" height="1.35"/><rect x="216.4" y="124.5" width="1.35" height="1.35"/><rect x="208.3" y="125.9" width="1.35" height="1.35"/><rect x="213.7" y="125.9" width="1.35" height="1.35"/><rect x="217.8" y="125.9" width="1.35" height="1.35"/><rect x="205.6" y="127.2" width="1.35" height="1.35"/><rect x="209.7" y="127.2" width="2.70" height="1.35"/><rect x="213.7" y="127.2" width="1.35" height="1.35"/><rect x="217.8" y="127.2" width="1.35" height="1.35"/><rect x="205.6" y="128.6" width="5.40" height="1.35"/><rect x="213.7" y="128.6" width="1.35" height="1.35"/><rect x="216.4" y="128.6" width="2.70" height="1.35"/><rect x="212.3" y="129.9" width="1.35" height="1.35"/><rect x="216.4" y="129.9" width="2.70" height="1.35"/><rect x="205.6" y="131.3" width="4.05" height="1.35"/><rect x="212.3" y="131.3" width="2.70" height="1.35"/><rect x="217.8" y="131.3" width="1.35" height="1.35"/><rect x="205.6" y="132.7" width="1.35" height="1.35"/><rect x="208.3" y="132.7" width="1.35" height="1.35"/><rect x="212.3" y="132.7" width="1.35" height="1.35"/><rect x="215.1" y="132.7" width="2.70" height="1.35"/><rect x="205.6" y="134.0" width="2.70" height="1.35"/><rect x="209.7" y="134.0" width="1.35" height="1.35"/><rect x="212.3" y="134.0" width="6.75" height="1.35"/><rect x="205.6" y="135.3" width="1.35" height="1.35"/><rect x="208.3" y="135.3" width="1.35" height="1.35"/><rect x="213.7" y="135.3" width="1.35" height="1.35"/><rect x="216.4" y="135.3" width="2.70" height="1.35"/><rect x="205.6" y="136.7" width="5.40" height="1.35"/><rect x="215.1" y="136.7" width="2.70" height="1.35"/><rect x="205.6" y="138.1" width="1.35" height="1.35"/><rect x="208.3" y="138.1" width="1.35" height="1.35"/><rect x="212.3" y="138.1" width="2.70" height="1.35"/><rect x="216.4" y="138.1" width="1.35" height="1.35"/><rect x="206.9" y="139.4" width="5.40" height="1.35"/><rect x="215.1" y="139.4" width="1.35" height="1.35"/><rect x="205.6" y="140.8" width="5.40" height="1.35"/><rect x="212.3" y="140.8" width="1.35" height="1.35"/><rect x="205.6" y="142.1" width="1.35" height="1.35"/><rect x="209.7" y="142.1" width="6.75" height="1.35"/><rect x="205.6" y="143.4" width="1.35" height="1.35"/><rect x="208.3" y="143.4" width="1.35" height="1.35"/><rect x="211.0" y="143.4" width="1.35" height="1.35"/><rect x="213.7" y="143.4" width="1.35" height="1.35"/><rect x="206.9" y="144.8" width="5.40" height="1.35"/><rect x="213.7" y="144.8" width="1.35" height="1.35"/><rect x="216.4" y="144.8" width="1.35" height="1.35"/><rect x="206.9" y="146.2" width="2.70" height="1.35"/><rect x="213.7" y="146.2" width="2.70" height="1.35"/><rect x="205.6" y="147.5" width="2.70" height="1.35"/><rect x="211.0" y="147.5" width="2.70" height="1.35"/><rect x="205.6" y="148.8" width="4.05" height="1.35"/><rect x="212.3" y="148.8" width="2.70" height="1.35"/><rect x="205.6" y="150.2" width="1.35" height="1.35"/><rect x="209.7" y="150.2" width="4.05" height="1.35"/><rect x="209.7" y="151.6" width="1.35" height="1.35"/></g>
<path d="M203.6,163.0 C204.8,159.4 208.0,159.8 211.0,158.5 C214.0,157.2 218.4,155.4 221.8,155.0 C225.2,154.6 228.7,155.1 231.3,156.0 C233.9,156.9 235.3,159.4 237.3,160.5 C239.3,161.6 241.1,162.2 243.2,162.5 C245.3,162.8 247.9,162.2 250.0,162.5 C252.1,162.8 254.5,162.8 256.0,164.0 C257.5,165.2 258.5,167.3 259.0,170.0 C259.5,172.7 268.2,178.4 259.0,180.1 C249.8,181.8 212.8,182.9 203.6,180.1 C194.4,177.2 202.4,166.6 203.6,163.0Z" fill="#4a9ccc" opacity="0.85" filter="url(#b1)"/>
<path d="M203.6,166.5 C204.7,163.5 207.0,163.4 210.0,162.0 C213.0,160.6 218.3,158.7 221.8,158.2 C225.3,157.7 228.6,158.2 231.0,159.0 C233.4,159.8 235.2,161.4 236.5,163.0 C237.8,164.6 238.8,165.7 239.0,168.5 C239.2,171.3 243.9,178.2 238.0,180.1 C232.1,182.0 209.3,182.4 203.6,180.1 C197.9,177.8 202.5,169.5 203.6,166.5Z" fill="#55be5c" opacity="0.95" filter="url(#b1)"/>
<path d="M246.0,180.1 C244.7,178.1 245.8,170.3 246.5,168.0 C247.2,165.7 248.8,165.9 250.0,166.0 C251.2,166.1 252.8,166.2 253.5,168.5 C254.2,170.8 255.8,178.2 254.5,180.1 C253.2,182.0 247.3,182.1 246.0,180.1Z" fill="#55be5c" opacity="0.85" filter="url(#b1)"/>
<ellipse cx="221.5" cy="166.3" rx="9.5" ry="5.8" fill="#c2cd40" opacity="0.8" filter="url(#b1)"/>
<ellipse cx="221.3" cy="166.2" rx="7.4" ry="4.4" fill="#e0843a" opacity="0.8" filter="url(#b1)"/>
<ellipse cx="221.4" cy="166.0" rx="5.8" ry="3.4" fill="#cf3a3a" opacity="0.95" filter="url(#b1)"/>
<g fill="#d8343f" opacity="0.9"><rect x="225.0" y="162.2" width="1.5" height="1.5"/><rect x="223.5" y="166.7" width="1.5" height="1.5"/><rect x="222.0" y="168.2" width="1.5" height="1.5"/></g><g fill="#e98c3a" opacity="0.9"><rect x="222.0" y="162.2" width="1.5" height="1.5"/><rect x="223.5" y="162.2" width="1.5" height="1.5"/><rect x="216.0" y="166.7" width="1.5" height="1.5"/><rect x="228.0" y="168.2" width="1.5" height="1.5"/></g><g fill="#c9d040" opacity="0.9"><rect x="217.5" y="160.7" width="1.5" height="1.5"/><rect x="226.5" y="162.2" width="1.5" height="1.5"/><rect x="219.0" y="166.7" width="1.5" height="1.5"/><rect x="220.5" y="166.7" width="1.5" height="1.5"/><rect x="217.5" y="168.2" width="1.5" height="1.5"/><rect x="225.0" y="168.2" width="1.5" height="1.5"/></g><g fill="#5cbf55" opacity="0.9"><rect x="216.0" y="162.2" width="1.5" height="1.5"/><rect x="220.5" y="162.2" width="1.5" height="1.5"/><rect x="225.0" y="165.2" width="1.5" height="1.5"/><rect x="214.5" y="166.7" width="1.5" height="1.5"/></g>
<g fill="#47a8cc" opacity="0.9"><rect x="209.5" y="159.5" width="1.5" height="1.5"/><rect x="223.0" y="159.5" width="1.5" height="1.5"/><rect x="214.0" y="161.0" width="1.5" height="1.5"/><rect x="235.0" y="161.0" width="1.5" height="1.5"/><rect x="221.5" y="162.5" width="1.5" height="1.5"/><rect x="239.5" y="168.5" width="1.5" height="1.5"/><rect x="217.0" y="170.0" width="1.5" height="1.5"/><rect x="220.0" y="171.5" width="1.5" height="1.5"/><rect x="221.5" y="173.0" width="1.5" height="1.5"/></g><g fill="#5cbf55" opacity="0.9"><rect x="215.5" y="158.0" width="1.5" height="1.5"/><rect x="233.5" y="161.0" width="1.5" height="1.5"/><rect x="239.5" y="161.0" width="1.5" height="1.5"/><rect x="223.0" y="162.5" width="1.5" height="1.5"/><rect x="226.0" y="162.5" width="1.5" height="1.5"/><rect x="205.0" y="165.5" width="1.5" height="1.5"/><rect x="230.5" y="165.5" width="1.5" height="1.5"/><rect x="229.0" y="170.0" width="1.5" height="1.5"/></g><g fill="#a8cc45" opacity="0.9"><rect x="230.5" y="155.0" width="1.5" height="1.5"/><rect x="226.0" y="159.5" width="1.5" height="1.5"/><rect x="232.0" y="159.5" width="1.5" height="1.5"/><rect x="242.5" y="161.0" width="1.5" height="1.5"/><rect x="233.5" y="164.0" width="1.5" height="1.5"/><rect x="229.0" y="167.0" width="1.5" height="1.5"/></g>
<rect x="205.6" y="175.6" width="51" height="1.5" fill="#c45d8c" opacity="0.9"/>
<g fill="#4a5cb6" opacity="0.85"><rect x="269.8" y="119.8" width="1.4" height="1.4"/><rect x="275.3" y="116.3" width="1.4" height="1.4"/><rect x="264.8" y="126.3" width="1.4" height="1.4"/></g>
</g>
<line x1="245.6" y1="43.0" x2="245.6" y2="177.1" stroke="#222" stroke-width="1.6"/>
<line x1="205.6" y1="133.0" x2="340.2" y2="133.0" stroke="#111" stroke-width="1.3"/>
<path d="M205.6,43.0 H340.2 V177.1" fill="none" stroke="#888" stroke-width="1.2"/>
<path d="M205.6,42.4 V177.1 H340.8" fill="none" stroke="#111" stroke-width="1.2"/>
<path d="M205.60,177.1 v3.6 M205.6,177.10 h-3.6 M215.73,177.1 v2 M205.6,167.01 h-2 M221.66,177.1 v2 M205.6,161.10 h-2 M225.86,177.1 v2 M205.6,156.92 h-2 M229.12,177.1 v2 M205.6,153.67 h-2 M231.78,177.1 v2 M205.6,151.01 h-2 M234.04,177.1 v2 M205.6,148.77 h-2 M235.99,177.1 v2 M205.6,146.82 h-2 M237.71,177.1 v2 M205.6,145.11 h-2 M239.25,177.1 v3.6 M205.6,143.57 h-3.6 M249.38,177.1 v2 M205.6,133.48 h-2 M255.31,177.1 v2 M205.6,127.58 h-2 M259.51,177.1 v2 M205.6,123.39 h-2 M262.77,177.1 v2 M205.6,120.14 h-2 M265.43,177.1 v2 M205.6,117.49 h-2 M267.69,177.1 v2 M205.6,115.24 h-2 M269.64,177.1 v2 M205.6,113.30 h-2 M271.36,177.1 v2 M205.6,111.58 h-2 M272.90,177.1 v3.6 M205.6,110.05 h-3.6 M283.03,177.1 v2 M205.6,99.96 h-2 M288.96,177.1 v2 M205.6,94.05 h-2 M293.16,177.1 v2 M205.6,89.87 h-2 M296.42,177.1 v2 M205.6,86.62 h-2 M299.08,177.1 v2 M205.6,83.96 h-2 M301.34,177.1 v2 M205.6,81.72 h-2 M303.29,177.1 v2 M205.6,79.77 h-2 M305.01,177.1 v2 M205.6,78.06 h-2 M306.55,177.1 v3.6 M205.6,76.53 h-3.6 M316.68,177.1 v2 M205.6,66.43 h-2 M322.61,177.1 v2 M205.6,60.53 h-2 M326.81,177.1 v2 M205.6,56.34 h-2 M330.07,177.1 v2 M205.6,53.09 h-2 M332.73,177.1 v2 M205.6,50.44 h-2 M334.99,177.1 v2 M205.6,48.19 h-2 M336.94,177.1 v2 M205.6,46.25 h-2 M338.66,177.1 v2 M205.6,44.53 h-2 M340.20,177.1 v3.6 M205.6,43.00 h-3.6" stroke="#222" stroke-width="0.8" fill="none"/>
<text x="207.90" y="191.30" font-size="7.2" fill="#444">10<tspan dy="-4.2" font-size="5.6">0</tspan></text>
<text x="238.25" y="191.30" font-size="7.2" fill="#444">10<tspan dy="-4.2" font-size="5.6">1</tspan></text>
<text x="271.90" y="191.30" font-size="7.2" fill="#444">10<tspan dy="-4.2" font-size="5.6">2</tspan></text>
<text x="305.55" y="191.30" font-size="7.2" fill="#444">10<tspan dy="-4.2" font-size="5.6">3</tspan></text>
<text x="329.70" y="191.30" font-size="7.2" fill="#444">10<tspan dy="-4.2" font-size="5.6">4</tspan></text>
<text x="189.00" y="177.60" font-size="7.2" fill="#444">10<tspan dy="-4.2" font-size="5.6">0</tspan></text>
<text x="189.00" y="148.77" font-size="7.2" fill="#444">10<tspan dy="-4.2" font-size="5.6">1</tspan></text>
<text x="189.00" y="115.25" font-size="7.2" fill="#444">10<tspan dy="-4.2" font-size="5.6">2</tspan></text>
<text x="189.00" y="81.73" font-size="7.2" fill="#444">10<tspan dy="-4.2" font-size="5.6">3</tspan></text>
<text x="189.00" y="54.10" font-size="7.2" fill="#444">10<tspan dy="-4.2" font-size="5.6">4</tspan></text>
<text x="208.00" y="55.10" font-size="10.5" font-weight="normal" text-anchor="start" fill="#1a1a1a" >HER2+</text>
<text x="337.50" y="55.10" font-size="10.5" font-weight="normal" text-anchor="end" fill="#1a1a1a" >HER2+ EpCAM+</text>
<text x="337.50" y="173.00" font-size="10.5" font-weight="normal" text-anchor="end" fill="#1a1a1a" >EpCAM+</text>
<text x="272.50" y="205.90" font-size="12.1" font-weight="normal" text-anchor="middle" fill="#1a1a1a" >EpCAM (FITC)</text>
<text x="437.50" y="15.90" font-size="13.8" font-weight="bold" text-anchor="middle" fill="#000" >Patient #3</text>
<text x="440.60" y="31.40" font-size="12.25" font-weight="normal" text-anchor="middle" fill="#1a1a1a" >(8.5 DTCs per 0.5mL BMA)</text>
<g clip-path="url(#cp2)">
<polygon points="371.5,102.4 420.5,88.0 456.9,91.0 446.6,179.2 371.5,179.2" fill="#b4b5de" stroke="#4b5bbd" stroke-width="1.4" stroke-linejoin="round"/>
<g fill="#4a5cb6" opacity="1.0"><rect x="440.5" y="95.5" width="3.00" height="1.5"/><rect x="416.5" y="97.0" width="1.50" height="1.5"/><rect x="421.0" y="97.0" width="1.50" height="1.5"/><rect x="437.5" y="97.0" width="4.50" height="1.5"/><rect x="443.5" y="97.0" width="3.00" height="1.5"/><rect x="404.5" y="98.5" width="1.50" height="1.5"/><rect x="410.5" y="98.5" width="3.00" height="1.5"/><rect x="418.0" y="98.5" width="3.00" height="1.5"/><rect x="425.5" y="98.5" width="1.50" height="1.5"/><rect x="434.5" y="98.5" width="3.00" height="1.5"/><rect x="445.0" y="98.5" width="3.00" height="1.5"/><rect x="404.5" y="100.0" width="4.50" height="1.5"/><rect x="413.5" y="100.0" width="1.50" height="1.5"/><rect x="418.0" y="100.0" width="1.50" height="1.5"/><rect x="422.5" y="100.0" width="10.50" height="1.5"/><rect x="443.5" y="100.0" width="1.50" height="1.5"/><rect x="398.5" y="101.5" width="1.50" height="1.5"/><rect x="403.0" y="101.5" width="1.50" height="1.5"/><rect x="406.0" y="101.5" width="1.50" height="1.5"/><rect x="422.5" y="101.5" width="3.00" height="1.5"/><rect x="389.5" y="103.0" width="1.50" height="1.5"/><rect x="398.5" y="103.0" width="1.50" height="1.5"/><rect x="401.5" y="103.0" width="1.50" height="1.5"/><rect x="443.5" y="103.0" width="1.50" height="1.5"/><rect x="392.5" y="104.5" width="6.00" height="1.5"/><rect x="442.0" y="104.5" width="1.50" height="1.5"/><rect x="445.0" y="104.5" width="1.50" height="1.5"/><rect x="386.5" y="106.0" width="3.00" height="1.5"/><rect x="391.0" y="106.0" width="4.50" height="1.5"/><rect x="442.0" y="106.0" width="3.00" height="1.5"/><rect x="388.0" y="107.5" width="6.00" height="1.5"/><rect x="440.5" y="107.5" width="3.00" height="1.5"/><rect x="382.0" y="109.0" width="1.50" height="1.5"/><rect x="386.5" y="109.0" width="1.50" height="1.5"/><rect x="389.5" y="109.0" width="1.50" height="1.5"/><rect x="443.5" y="109.0" width="1.50" height="1.5"/><rect x="379.0" y="110.5" width="10.50" height="1.5"/><rect x="439.0" y="110.5" width="3.00" height="1.5"/><rect x="379.0" y="112.0" width="3.00" height="1.5"/><rect x="383.5" y="112.0" width="3.00" height="1.5"/><rect x="440.5" y="112.0" width="3.00" height="1.5"/><rect x="373.0" y="113.5" width="1.50" height="1.5"/><rect x="439.0" y="113.5" width="1.50" height="1.5"/><rect x="374.5" y="115.0" width="1.50" height="1.5"/><rect x="377.5" y="115.0" width="3.00" height="1.5"/><rect x="382.0" y="115.0" width="1.50" height="1.5"/><rect x="437.5" y="115.0" width="4.50" height="1.5"/><rect x="374.5" y="116.5" width="1.50" height="1.5"/><rect x="377.5" y="116.5" width="1.50" height="1.5"/><rect x="380.5" y="116.5" width="1.50" height="1.5"/><rect x="437.5" y="116.5" width="4.50" height="1.5"/><rect x="374.5" y="118.0" width="1.50" height="1.5"/><rect x="377.5" y="118.0" width="1.50" height="1.5"/><rect x="434.5" y="118.0" width="1.50" height="1.5"/><rect x="437.5" y="118.0" width="1.50" height="1.5"/><rect x="377.5" y="119.5" width="1.50" height="1.5"/><rect x="433.0" y="119.5" width="1.50" height="1.5"/><rect x="437.5" y="119.5" width="3.00" height="1.5"/><rect x="442.0" y="119.5" width="1.50" height="1.5"/><rect x="374.5" y="121.0" width="3.00" height="1.5"/><rect x="431.5" y="121.0" width="4.50" height="1.5"/><rect x="437.5" y="121.0" width="1.50" height="1.5"/><rect x="373.0" y="122.5" width="1.50" height="1.5"/><rect x="431.5" y="122.5" width="1.50" height="1.5"/><rect x="437.5" y="122.5" width="1.50" height="1.5"/><rect x="442.0" y="122.5" width="1.50" height="1.5"/><rect x="371.5" y="124.0" width="1.50" height="1.5"/><rect x="430.0" y="124.0" width="1.50" height="1.5"/><rect x="434.5" y="124.0" width="4.50" height="1.5"/><rect x="442.0" y="124.0" width="1.50" height="1.5"/><rect x="428.5" y="125.5" width="9.00" height="1.5"/><rect x="428.5" y="127.0" width="1.50" height="1.5"/><rect x="431.5" y="127.0" width="3.00" height="1.5"/><rect x="437.5" y="127.0" width="1.50" height="1.5"/><rect x="440.5" y="127.0" width="1.50" height="1.5"/><rect x="425.5" y="128.5" width="6.00" height="1.5"/><rect x="437.5" y="128.5" width="1.50" height="1.5"/><rect x="427.0" y="130.0" width="1.50" height="1.5"/><rect x="430.0" y="130.0" width="3.00" height="1.5"/><rect x="436.0" y="130.0" width="1.50" height="1.5"/><rect x="422.5" y="131.5" width="3.00" height="1.5"/><rect x="428.5" y="131.5" width="1.50" height="1.5"/><rect x="433.0" y="131.5" width="3.00" height="1.5"/><rect x="421.0" y="133.0" width="4.50" height="1.5"/><rect x="428.5" y="133.0" width="1.50" height="1.5"/><rect x="433.0" y="133.0" width="3.00" height="1.5"/><rect x="440.5" y="133.0" width="1.50" height="1.5"/><rect x="422.5" y="134.5" width="3.00" height="1.5"/><rect x="427.0" y="134.5" width="1.50" height="1.5"/><rect x="433.0" y="134.5" width="1.50" height="1.5"/><rect x="422.5" y="136.0" width="7.50" height="1.5"/><rect x="436.0" y="136.0" width="1.50" height="1.5"/><rect x="422.5" y="137.5" width="3.00" height="1.5"/><rect x="427.0" y="137.5" width="3.00" height="1.5"/><rect x="434.5" y="137.5" width="3.00" height="1.5"/><rect x="422.5" y="139.0" width="4.50" height="1.5"/><rect x="439.0" y="139.0" width="1.50" height="1.5"/><rect x="422.5" y="140.5" width="9.00" height="1.5"/><rect x="440.5" y="140.5" width="1.50" height="1.5"/><rect x="424.0" y="142.0" width="3.00" height="1.5"/><rect x="428.5" y="142.0" width="3.00" height="1.5"/><rect x="433.0" y="142.0" width="1.50" height="1.5"/><rect x="436.0" y="142.0" width="1.50" height="1.5"/><rect x="424.0" y="143.5" width="4.50" height="1.5"/><rect x="430.0" y="143.5" width="3.00" height="1.5"/><rect x="434.5" y="143.5" width="3.00" height="1.5"/><rect x="424.0" y="145.0" width="4.50" height="1.5"/><rect x="430.0" y="145.0" width="1.50" height="1.5"/><rect x="433.0" y="145.0" width="1.50" height="1.5"/><rect x="424.0" y="146.5" width="3.00" height="1.5"/><rect x="428.5" y="146.5" width="1.50" height="1.5"/><rect x="431.5" y="146.5" width="1.50" height="1.5"/><rect x="439.0" y="146.5" width="3.00" height="1.5"/><rect x="427.0" y="148.0" width="4.50" height="1.5"/><rect x="434.5" y="148.0" width="1.50" height="1.5"/><rect x="439.0" y="148.0" width="3.00" height="1.5"/><rect x="430.0" y="149.5" width="4.50" height="1.5"/><rect x="437.5" y="149.5" width="1.50" height="1.5"/><rect x="430.0" y="151.0" width="3.00" height="1.5"/><rect x="434.5" y="151.0" width="1.50" height="1.5"/><rect x="431.5" y="152.5" width="4.50" height="1.5"/><rect x="433.0" y="154.0" width="7.50" height="1.5"/><rect x="436.0" y="155.5" width="1.50" height="1.5"/><rect x="440.5" y="155.5" width="4.50" height="1.5"/><rect x="439.0" y="157.0" width="3.00" height="1.5"/><rect x="437.5" y="158.5" width="6.00" height="1.5"/><rect x="445.0" y="158.5" width="1.50" height="1.5"/><rect x="439.0" y="160.0" width="1.50" height="1.5"/><rect x="440.5" y="161.5" width="1.50" height="1.5"/><rect x="440.5" y="163.0" width="1.50" height="1.5"/><rect x="440.5" y="164.5" width="1.50" height="1.5"/><rect x="440.5" y="166.0" width="1.50" height="1.5"/><rect x="443.5" y="167.5" width="1.50" height="1.5"/><rect x="440.5" y="169.0" width="3.00" height="1.5"/><rect x="443.5" y="170.5" width="1.50" height="1.5"/><rect x="442.0" y="172.0" width="1.50" height="1.5"/><rect x="445.0" y="172.0" width="1.50" height="1.5"/><rect x="442.0" y="173.5" width="1.50" height="1.5"/><rect x="442.0" y="175.0" width="1.50" height="1.5"/><rect x="442.0" y="176.5" width="1.50" height="1.5"/><rect x="442.0" y="178.0" width="1.50" height="1.5"/></g>
<polygon points="371.5,126.0 373.3,125.0 378.0,121.0 382.7,116.9 388.0,112.0 394.4,107.5 400.0,104.5 406.0,102.8 411.9,101.1 417.7,100.5 421.2,101.7 426.0,103.0 432.0,101.5 438.7,99.5 443.4,97.0 444.8,98.5 443.4,102.0 438.7,113.4 432.9,120.4 427.0,128.5 422.4,131.5 421.5,133.2 424.2,146.8 430.0,152.0 437.2,157.7 440.5,165.0 442.7,179.2 371.5,179.2" fill="#4a5cb6"/>
<g fill="#b4b5de" opacity="1.0"><rect x="442.8" y="99.0" width="1.50" height="1.5"/><rect x="412.8" y="100.5" width="1.50" height="1.5"/><rect x="418.8" y="100.5" width="1.50" height="1.5"/><rect x="432.3" y="100.5" width="3.00" height="1.5"/><rect x="436.8" y="100.5" width="1.50" height="1.5"/><rect x="406.8" y="102.0" width="1.50" height="1.5"/><rect x="402.3" y="103.5" width="1.50" height="1.5"/><rect x="439.8" y="103.5" width="1.50" height="1.5"/><rect x="394.8" y="106.5" width="1.50" height="1.5"/><rect x="439.8" y="108.0" width="1.50" height="1.5"/><rect x="438.3" y="111.0" width="1.50" height="1.5"/><rect x="436.8" y="112.5" width="1.50" height="1.5"/><rect x="384.3" y="114.0" width="3.00" height="1.5"/><rect x="436.8" y="114.0" width="1.50" height="1.5"/><rect x="382.8" y="115.5" width="1.50" height="1.5"/><rect x="430.8" y="121.5" width="1.50" height="1.5"/><rect x="429.3" y="123.0" width="1.50" height="1.5"/><rect x="372.3" y="124.5" width="1.50" height="1.5"/><rect x="424.8" y="127.5" width="3.00" height="1.5"/><rect x="420.3" y="132.0" width="1.50" height="1.5"/><rect x="418.8" y="135.0" width="3.00" height="1.5"/><rect x="420.3" y="138.0" width="3.00" height="1.5"/><rect x="421.8" y="141.0" width="1.50" height="1.5"/><rect x="430.8" y="153.0" width="1.50" height="1.5"/><rect x="432.3" y="156.0" width="3.00" height="1.5"/><rect x="436.8" y="160.5" width="1.50" height="1.5"/><rect x="439.8" y="166.5" width="1.50" height="1.5"/></g>
<g fill="#b4b5de" opacity="1.0"><rect x="414.0" y="100.0" width="3.00" height="1.5"/><rect x="423.0" y="100.0" width="1.50" height="1.5"/><rect x="433.5" y="100.0" width="1.50" height="1.5"/><rect x="415.5" y="101.5" width="3.00" height="1.5"/><rect x="424.5" y="101.5" width="4.50" height="1.5"/><rect x="430.5" y="101.5" width="4.50" height="1.5"/><rect x="415.5" y="103.0" width="3.00" height="1.5"/><rect x="420.0" y="103.0" width="1.50" height="1.5"/><rect x="424.5" y="103.0" width="1.50" height="1.5"/><rect x="418.5" y="104.5" width="1.50" height="1.5"/><rect x="421.5" y="104.5" width="1.50" height="1.5"/><rect x="427.5" y="104.5" width="1.50" height="1.5"/><rect x="421.5" y="106.0" width="3.00" height="1.5"/><rect x="426.0" y="106.0" width="1.50" height="1.5"/><rect x="420.0" y="107.5" width="4.50" height="1.5"/></g>
<g fill="#a9aedd" opacity="1.0"><rect x="376.6" y="133.7" width="1.35" height="1.35"/><rect x="381.9" y="133.7" width="1.35" height="1.35"/><rect x="375.2" y="135.1" width="1.35" height="1.35"/><rect x="379.2" y="135.1" width="5.40" height="1.35"/><rect x="372.5" y="136.4" width="1.35" height="1.35"/><rect x="379.2" y="136.4" width="2.70" height="1.35"/><rect x="383.3" y="136.4" width="2.70" height="1.35"/><rect x="373.9" y="137.8" width="6.75" height="1.35"/><rect x="381.9" y="137.8" width="4.05" height="1.35"/><rect x="372.5" y="139.1" width="2.70" height="1.35"/><rect x="379.2" y="139.1" width="6.75" height="1.35"/><rect x="372.5" y="140.4" width="4.05" height="1.35"/><rect x="377.9" y="140.4" width="4.05" height="1.35"/><rect x="384.6" y="140.4" width="1.35" height="1.35"/><rect x="372.5" y="141.8" width="4.05" height="1.35"/><rect x="377.9" y="141.8" width="1.35" height="1.35"/><rect x="380.6" y="141.8" width="1.35" height="1.35"/><rect x="383.3" y="141.8" width="2.70" height="1.35"/><rect x="375.2" y="143.2" width="2.70" height="1.35"/><rect x="379.2" y="143.2" width="2.70" height="1.35"/><rect x="372.5" y="144.5" width="2.70" height="1.35"/><rect x="376.6" y="144.5" width="1.35" height="1.35"/><rect x="380.6" y="144.5" width="4.05" height="1.35"/><rect x="373.9" y="145.8" width="4.05" height="1.35"/><rect x="380.6" y="145.8" width="1.35" height="1.35"/><rect x="375.2" y="147.2" width="1.35" height="1.35"/><rect x="377.9" y="148.6" width="4.05" height="1.35"/><rect x="373.9" y="149.9" width="2.70" height="1.35"/><rect x="377.9" y="149.9" width="1.35" height="1.35"/><rect x="375.2" y="151.2" width="1.35" height="1.35"/><rect x="377.9" y="151.2" width="1.35" height="1.35"/></g>
<g fill="#a9aedd" opacity="1.0"><rect x="428.9" y="133.5" width="1.35" height="1.35"/><rect x="431.6" y="133.5" width="4.05" height="1.35"/><rect x="436.9" y="133.5" width="2.70" height="1.35"/><rect x="424.8" y="134.8" width="4.05" height="1.35"/><rect x="436.9" y="134.8" width="4.05" height="1.35"/><rect x="426.1" y="136.2" width="4.05" height="1.35"/><rect x="435.6" y="136.2" width="4.05" height="1.35"/><rect x="423.4" y="137.6" width="1.35" height="1.35"/><rect x="426.1" y="137.6" width="1.35" height="1.35"/><rect x="428.9" y="137.6" width="1.35" height="1.35"/><rect x="432.9" y="137.6" width="8.10" height="1.35"/><rect x="422.1" y="138.9" width="4.05" height="1.35"/><rect x="427.5" y="138.9" width="2.70" height="1.35"/><rect x="431.6" y="138.9" width="1.35" height="1.35"/><rect x="423.4" y="140.2" width="1.35" height="1.35"/><rect x="426.1" y="140.2" width="2.70" height="1.35"/><rect x="431.6" y="140.2" width="4.05" height="1.35"/><rect x="438.3" y="140.2" width="1.35" height="1.35"/><rect x="423.4" y="141.6" width="2.70" height="1.35"/><rect x="432.9" y="141.6" width="1.35" height="1.35"/><rect x="436.9" y="141.6" width="1.35" height="1.35"/><rect x="423.4" y="142.9" width="1.35" height="1.35"/><rect x="427.5" y="142.9" width="2.70" height="1.35"/><rect x="432.9" y="142.9" width="1.35" height="1.35"/><rect x="426.1" y="144.3" width="9.45" height="1.35"/><rect x="436.9" y="144.3" width="1.35" height="1.35"/><rect x="423.4" y="145.7" width="2.70" height="1.35"/><rect x="428.9" y="145.7" width="1.35" height="1.35"/><rect x="434.2" y="145.7" width="2.70" height="1.35"/><rect x="424.8" y="147.0" width="1.35" height="1.35"/><rect x="428.9" y="147.0" width="1.35" height="1.35"/><rect x="431.6" y="147.0" width="1.35" height="1.35"/><rect x="438.3" y="147.0" width="1.35" height="1.35"/><rect x="427.5" y="148.3" width="1.35" height="1.35"/><rect x="432.9" y="148.3" width="4.05" height="1.35"/><rect x="438.3" y="148.3" width="2.70" height="1.35"/><rect x="428.9" y="149.7" width="1.35" height="1.35"/><rect x="438.3" y="149.7" width="1.35" height="1.35"/><rect x="430.2" y="151.1" width="5.40" height="1.35"/><rect x="439.6" y="151.1" width="1.35" height="1.35"/><rect x="435.6" y="152.4" width="1.35" height="1.35"/><rect x="438.3" y="152.4" width="2.70" height="1.35"/><rect x="432.9" y="153.8" width="5.40" height="1.35"/><rect x="434.2" y="155.1" width="1.35" height="1.35"/><rect x="436.9" y="155.1" width="1.35" height="1.35"/><rect x="439.6" y="155.1" width="1.35" height="1.35"/></g>
<path d="M376.0,178.0 C374.8,175.5 381.2,167.8 384.0,163.0 C386.8,158.2 390.2,153.2 393.0,149.0 C395.8,144.8 399.0,140.6 401.0,138.0 C403.0,135.4 403.3,134.2 405.0,133.5 C406.7,132.8 410.2,132.4 411.0,133.5 C411.8,134.6 411.3,136.9 410.0,140.0 C408.7,143.1 405.3,148.0 403.0,152.0 C400.7,156.0 398.0,159.7 396.0,164.0 C394.0,168.3 394.3,175.7 391.0,178.0 C387.7,180.3 377.2,180.5 376.0,178.0Z" fill="#4a8fcc" opacity="0.8" filter="url(#b2)"/>
<path d="M380.0,177.0 C379.7,174.7 384.5,167.5 387.0,163.0 C389.5,158.5 392.5,154.0 395.0,150.0 C397.5,146.0 400.2,141.5 402.0,139.0 C403.8,136.5 404.8,135.6 406.0,135.0 C407.2,134.4 409.5,134.0 409.5,135.5 C409.5,137.0 407.6,140.8 406.0,144.0 C404.4,147.2 402.0,151.3 400.0,155.0 C398.0,158.7 395.8,162.3 394.0,166.0 C392.2,169.7 391.3,175.2 389.0,177.0 C386.7,178.8 380.3,179.3 380.0,177.0Z" fill="#46aacc" opacity="0.95" filter="url(#b1)"/>
<path d="M385.0,172.0 C385.2,170.0 388.8,163.8 391.0,160.0 C393.2,156.2 396.0,152.2 398.0,149.0 C400.0,145.8 401.8,142.3 403.0,141.0 C404.2,139.7 405.8,139.3 405.5,141.0 C405.2,142.7 402.8,147.5 401.0,151.0 C399.2,154.5 396.8,158.5 395.0,162.0 C393.2,165.5 391.7,170.3 390.0,172.0 C388.3,173.7 384.8,174.0 385.0,172.0Z" fill="#4dbab6" opacity="0.6" filter="url(#b1)"/>
<path d="M370.5,162.0 C371.8,159.0 375.8,161.5 378.0,162.0 C380.2,162.5 382.5,163.7 384.0,165.0 C385.5,166.3 386.3,167.5 387.0,170.0 C387.7,172.5 390.8,178.5 388.0,180.2 C385.2,181.9 373.4,183.2 370.5,180.2 C367.6,177.2 369.2,165.0 370.5,162.0Z" fill="#4aa8c8" opacity="0.9" filter="url(#b2)"/>
<path d="M370.5,165.5 C371.6,163.1 375.2,165.4 377.0,166.0 C378.8,166.6 380.5,166.6 381.5,169.0 C382.5,171.4 384.8,178.3 383.0,180.2 C381.2,182.1 372.6,182.6 370.5,180.2 C368.4,177.8 369.4,167.9 370.5,165.5Z" fill="#55bd5e" opacity="0.9" filter="url(#b1)"/>
<path d="M413.5,179.2 C410.1,177.1 413.6,169.3 414.3,166.5 C415.1,163.7 416.4,163.4 418.0,162.5 C419.6,161.6 422.2,161.1 424.2,161.2 C426.2,161.2 428.6,161.8 430.2,162.8 C431.8,163.8 433.1,164.3 433.8,167.0 C434.5,169.7 437.9,177.2 434.5,179.2 C431.1,181.2 416.9,181.3 413.5,179.2Z" fill="#45a8c9" opacity="0.95" filter="url(#b1)"/>
<path d="M416.5,179.2 C414.2,177.5 416.8,171.2 417.5,169.0 C418.2,166.8 419.2,166.4 420.5,165.8 C421.8,165.2 423.6,165.0 425.0,165.2 C426.4,165.4 428.0,166.0 429.0,166.8 C430.0,167.6 430.6,167.9 431.0,170.0 C431.4,172.1 433.9,177.7 431.5,179.2 C429.1,180.7 418.8,180.9 416.5,179.2Z" fill="#55bd63" opacity="0.9" filter="url(#b2)"/>
<rect x="372.5" y="175.89999999999998" width="5" height="1.3" fill="#d0703a" opacity="0.9"/>
<rect x="377.5" y="175.89999999999998" width="68" height="1.3" fill="#4cb0a0" opacity="0.7"/>
<g fill="#4a5cb6" opacity="0.85"><rect x="376.2" y="88.8" width="1.4" height="1.4"/><rect x="410.1" y="82.7" width="1.4" height="1.4"/><rect x="435.0" y="86.4" width="1.4" height="1.4"/><rect x="455.1" y="87.8" width="1.4" height="1.4"/><rect x="470.4" y="115.2" width="1.4" height="1.4"/><rect x="473.1" y="123.9" width="1.4" height="1.4"/><rect x="468.7" y="125.6" width="1.4" height="1.4"/><rect x="456.2" y="120.7" width="1.4" height="1.4"/><rect x="457.3" y="129.4" width="1.4" height="1.4"/><rect x="461.3" y="129.7" width="1.4" height="1.4"/><rect x="456.1" y="129.2" width="1.4" height="1.4"/><rect x="461.6" y="129.7" width="1.4" height="1.4"/><rect x="468.6" y="125.9" width="1.4" height="1.4"/><rect x="463.7" y="135.7" width="1.4" height="1.4"/><rect x="456.1" y="136.8" width="1.4" height="1.4"/><rect x="456.7" y="140.6" width="1.4" height="1.4"/><rect x="455.0" y="142.3" width="1.4" height="1.4"/></g>
<line x1="385.8" y1="63.4" x2="379.1" y2="81.7" stroke="#111" stroke-width="1.1"/><polygon points="377.3,86.7 377.9,80.2 381.1,81.4" fill="#111"/>
<line x1="390.9" y1="65.2" x2="405.7" y2="77.2" stroke="#111" stroke-width="1.1"/><polygon points="409.8,80.5 403.8,77.9 406.0,75.2" fill="#111"/>
<line x1="422.1" y1="60.9" x2="431.3" y2="77.7" stroke="#111" stroke-width="1.1"/><polygon points="433.8,82.4 429.3,77.7 432.3,76.1" fill="#111"/>
<line x1="480.9" y1="74.8" x2="464.1" y2="83.8" stroke="#111" stroke-width="1.1"/><polygon points="459.4,86.3 464.2,81.8 465.8,84.8" fill="#111"/>
<line x1="500.3" y1="114.1" x2="483.9" y2="122.7" stroke="#111" stroke-width="1.1"/><polygon points="479.2,125.2 484.0,120.8 485.6,123.8" fill="#111"/>
</g>
<line x1="412.6" y1="43.6" x2="412.6" y2="177.2" stroke="#222" stroke-width="1.6"/>
<line x1="372.5" y1="133.5" x2="507.1" y2="133.5" stroke="#111" stroke-width="1.3"/>
<path d="M372.5,43.6 H507.1 V177.2" fill="none" stroke="#888" stroke-width="1.2"/>
<path d="M372.5,43.0 V177.2 H507.70000000000005" fill="none" stroke="#111" stroke-width="1.2"/>
<path d="M372.50,177.2 v3.6 M372.5,177.20 h-3.6 M382.63,177.2 v2 M372.5,167.15 h-2 M388.56,177.2 v2 M372.5,161.26 h-2 M392.76,177.2 v2 M372.5,157.09 h-2 M396.02,177.2 v2 M372.5,153.85 h-2 M398.68,177.2 v2 M372.5,151.21 h-2 M400.94,177.2 v2 M372.5,148.97 h-2 M402.89,177.2 v2 M372.5,147.04 h-2 M404.61,177.2 v2 M372.5,145.33 h-2 M406.15,177.2 v3.6 M372.5,143.80 h-3.6 M416.28,177.2 v2 M372.5,133.75 h-2 M422.21,177.2 v2 M372.5,127.86 h-2 M426.41,177.2 v2 M372.5,123.69 h-2 M429.67,177.2 v2 M372.5,120.45 h-2 M432.33,177.2 v2 M372.5,117.81 h-2 M434.59,177.2 v2 M372.5,115.57 h-2 M436.54,177.2 v2 M372.5,113.64 h-2 M438.26,177.2 v2 M372.5,111.93 h-2 M439.80,177.2 v3.6 M372.5,110.40 h-3.6 M449.93,177.2 v2 M372.5,100.35 h-2 M455.86,177.2 v2 M372.5,94.46 h-2 M460.06,177.2 v2 M372.5,90.29 h-2 M463.32,177.2 v2 M372.5,87.05 h-2 M465.98,177.2 v2 M372.5,84.41 h-2 M468.24,177.2 v2 M372.5,82.17 h-2 M470.19,177.2 v2 M372.5,80.24 h-2 M471.91,177.2 v2 M372.5,78.53 h-2 M473.45,177.2 v3.6 M372.5,77.00 h-3.6 M483.58,177.2 v2 M372.5,66.95 h-2 M489.51,177.2 v2 M372.5,61.06 h-2 M493.71,177.2 v2 M372.5,56.89 h-2 M496.97,177.2 v2 M372.5,53.65 h-2 M499.63,177.2 v2 M372.5,51.01 h-2 M501.89,177.2 v2 M372.5,48.77 h-2 M503.84,177.2 v2 M372.5,46.84 h-2 M505.56,177.2 v2 M372.5,45.13 h-2 M507.10,177.2 v3.6 M372.5,43.60 h-3.6" stroke="#222" stroke-width="0.8" fill="none"/>
<text x="374.80" y="191.40" font-size="7.2" fill="#444">10<tspan dy="-4.2" font-size="5.6">0</tspan></text>
<text x="405.15" y="191.40" font-size="7.2" fill="#444">10<tspan dy="-4.2" font-size="5.6">1</tspan></text>
<text x="438.80" y="191.40" font-size="7.2" fill="#444">10<tspan dy="-4.2" font-size="5.6">2</tspan></text>
<text x="472.45" y="191.40" font-size="7.2" fill="#444">10<tspan dy="-4.2" font-size="5.6">3</tspan></text>
<text x="496.60" y="191.40" font-size="7.2" fill="#444">10<tspan dy="-4.2" font-size="5.6">4</tspan></text>
<text x="355.90" y="177.70" font-size="7.2" fill="#444">10<tspan dy="-4.2" font-size="5.6">0</tspan></text>
<text x="355.90" y="149.00" font-size="7.2" fill="#444">10<tspan dy="-4.2" font-size="5.6">1</tspan></text>
<text x="355.90" y="115.60" font-size="7.2" fill="#444">10<tspan dy="-4.2" font-size="5.6">2</tspan></text>
<text x="355.90" y="82.20" font-size="7.2" fill="#444">10<tspan dy="-4.2" font-size="5.6">3</tspan></text>
<text x="355.90" y="54.70" font-size="7.2" fill="#444">10<tspan dy="-4.2" font-size="5.6">4</tspan></text>
<text x="374.90" y="55.10" font-size="10.5" font-weight="normal" text-anchor="start" fill="#1a1a1a" >HER2+</text>
<text x="504.40" y="55.10" font-size="10.5" font-weight="normal" text-anchor="end" fill="#1a1a1a" >HER2+ EpCAM+</text>
<text x="504.40" y="173.00" font-size="10.5" font-weight="normal" text-anchor="end" fill="#1a1a1a" >EpCAM+</text>
<text x="439.90" y="205.90" font-size="12.1" font-weight="normal" text-anchor="middle" fill="#1a1a1a" >EpCAM (FITC)</text>
<text x="606.90" y="15.90" font-size="13.8" font-weight="bold" text-anchor="middle" fill="#000" >Patient #4</text>
<text x="610.00" y="31.40" font-size="12.25" font-weight="normal" text-anchor="middle" fill="#1a1a1a" >(8.1 DTCs per 0.5mL BMA)</text>
<g clip-path="url(#cp3)">
<polygon points="542.5,102.9 595.1,85.3 617.2,86.4 631.6,88.6 615.5,179.7 542.5,179.7" fill="#b4b5de" stroke="#4b5bbd" stroke-width="1.4" stroke-linejoin="round"/>
<g fill="#4a5cb6" opacity="1.0"><rect x="580.0" y="94.5" width="3.00" height="1.5"/><rect x="584.5" y="94.5" width="1.50" height="1.5"/><rect x="589.0" y="94.5" width="1.50" height="1.5"/><rect x="592.0" y="94.5" width="1.50" height="1.5"/><rect x="575.5" y="96.0" width="1.50" height="1.5"/><rect x="578.5" y="96.0" width="1.50" height="1.5"/><rect x="584.5" y="96.0" width="3.00" height="1.5"/><rect x="590.5" y="96.0" width="1.50" height="1.5"/><rect x="574.0" y="97.5" width="4.50" height="1.5"/><rect x="589.0" y="97.5" width="3.00" height="1.5"/><rect x="569.5" y="99.0" width="4.50" height="1.5"/><rect x="596.5" y="99.0" width="1.50" height="1.5"/><rect x="571.0" y="100.5" width="1.50" height="1.5"/><rect x="569.5" y="102.0" width="1.50" height="1.5"/><rect x="593.5" y="102.0" width="1.50" height="1.5"/><rect x="593.5" y="103.5" width="4.50" height="1.5"/><rect x="560.5" y="105.0" width="1.50" height="1.5"/><rect x="565.0" y="105.0" width="3.00" height="1.5"/><rect x="595.0" y="105.0" width="1.50" height="1.5"/><rect x="598.0" y="105.0" width="1.50" height="1.5"/><rect x="595.0" y="106.5" width="1.50" height="1.5"/><rect x="563.5" y="108.0" width="3.00" height="1.5"/><rect x="595.0" y="108.0" width="3.00" height="1.5"/><rect x="557.5" y="109.5" width="1.50" height="1.5"/><rect x="595.0" y="109.5" width="1.50" height="1.5"/><rect x="559.0" y="111.0" width="6.00" height="1.5"/><rect x="595.0" y="111.0" width="1.50" height="1.5"/><rect x="599.5" y="111.0" width="1.50" height="1.5"/><rect x="556.0" y="112.5" width="1.50" height="1.5"/><rect x="559.0" y="112.5" width="1.50" height="1.5"/><rect x="562.0" y="112.5" width="1.50" height="1.5"/><rect x="595.0" y="112.5" width="3.00" height="1.5"/><rect x="553.0" y="114.0" width="1.50" height="1.5"/><rect x="557.5" y="114.0" width="1.50" height="1.5"/><rect x="560.5" y="114.0" width="1.50" height="1.5"/><rect x="595.0" y="114.0" width="1.50" height="1.5"/><rect x="557.5" y="115.5" width="4.50" height="1.5"/><rect x="595.0" y="115.5" width="1.50" height="1.5"/><rect x="550.0" y="117.0" width="1.50" height="1.5"/><rect x="557.5" y="117.0" width="1.50" height="1.5"/><rect x="595.0" y="117.0" width="3.00" height="1.5"/><rect x="551.5" y="118.5" width="1.50" height="1.5"/><rect x="554.5" y="118.5" width="1.50" height="1.5"/><rect x="548.5" y="120.0" width="1.50" height="1.5"/><rect x="556.0" y="120.0" width="1.50" height="1.5"/><rect x="596.5" y="120.0" width="1.50" height="1.5"/><rect x="551.5" y="121.5" width="1.50" height="1.5"/><rect x="554.5" y="121.5" width="1.50" height="1.5"/><rect x="596.5" y="121.5" width="1.50" height="1.5"/><rect x="551.5" y="123.0" width="4.50" height="1.5"/><rect x="598.0" y="123.0" width="1.50" height="1.5"/><rect x="547.0" y="124.5" width="7.50" height="1.5"/><rect x="545.5" y="126.0" width="1.50" height="1.5"/><rect x="551.5" y="126.0" width="1.50" height="1.5"/><rect x="602.5" y="126.0" width="1.50" height="1.5"/><rect x="547.0" y="127.5" width="4.50" height="1.5"/><rect x="596.5" y="127.5" width="3.00" height="1.5"/><rect x="545.5" y="129.0" width="1.50" height="1.5"/><rect x="598.0" y="129.0" width="1.50" height="1.5"/><rect x="544.0" y="130.5" width="4.50" height="1.5"/><rect x="598.0" y="130.5" width="3.00" height="1.5"/><rect x="602.5" y="130.5" width="1.50" height="1.5"/><rect x="544.0" y="132.0" width="1.50" height="1.5"/><rect x="598.0" y="132.0" width="4.50" height="1.5"/><rect x="604.0" y="132.0" width="1.50" height="1.5"/><rect x="544.0" y="133.5" width="1.50" height="1.5"/><rect x="601.0" y="133.5" width="3.00" height="1.5"/><rect x="607.0" y="133.5" width="1.50" height="1.5"/><rect x="544.0" y="135.0" width="1.50" height="1.5"/><rect x="602.5" y="135.0" width="6.00" height="1.5"/><rect x="610.0" y="135.0" width="3.00" height="1.5"/><rect x="611.5" y="136.5" width="1.50" height="1.5"/><rect x="607.0" y="138.0" width="4.50" height="1.5"/><rect x="610.0" y="141.0" width="3.00" height="1.5"/><rect x="614.5" y="141.0" width="1.50" height="1.5"/><rect x="617.5" y="141.0" width="1.50" height="1.5"/><rect x="610.0" y="142.5" width="4.50" height="1.5"/><rect x="614.5" y="144.0" width="1.50" height="1.5"/><rect x="613.0" y="145.5" width="1.50" height="1.5"/><rect x="611.5" y="147.0" width="4.50" height="1.5"/><rect x="611.5" y="148.5" width="3.00" height="1.5"/><rect x="611.5" y="151.5" width="3.00" height="1.5"/><rect x="616.0" y="151.5" width="1.50" height="1.5"/><rect x="613.0" y="153.0" width="1.50" height="1.5"/><rect x="614.5" y="154.5" width="1.50" height="1.5"/><rect x="613.0" y="156.0" width="3.00" height="1.5"/><rect x="611.5" y="157.5" width="1.50" height="1.5"/><rect x="614.5" y="157.5" width="1.50" height="1.5"/><rect x="616.0" y="159.0" width="1.50" height="1.5"/><rect x="611.5" y="160.5" width="1.50" height="1.5"/><rect x="611.5" y="162.0" width="1.50" height="1.5"/><rect x="614.5" y="162.0" width="1.50" height="1.5"/><rect x="611.5" y="163.5" width="1.50" height="1.5"/><rect x="611.5" y="165.0" width="1.50" height="1.5"/><rect x="613.0" y="166.5" width="1.50" height="1.5"/><rect x="613.0" y="168.0" width="3.00" height="1.5"/><rect x="611.5" y="169.5" width="1.50" height="1.5"/><rect x="611.5" y="171.0" width="1.50" height="1.5"/><rect x="613.0" y="172.5" width="1.50" height="1.5"/><rect x="611.5" y="174.0" width="1.50" height="1.5"/><rect x="610.0" y="175.5" width="3.00" height="1.5"/><rect x="610.0" y="177.0" width="1.50" height="1.5"/><rect x="610.0" y="178.5" width="1.50" height="1.5"/><rect x="613.0" y="178.5" width="1.50" height="1.5"/></g>
<polygon points="542.5,140.0 546.0,134.0 551.0,128.0 557.0,122.0 563.0,114.0 569.0,105.0 575.0,99.5 581.0,97.5 587.0,97.5 592.0,99.5 595.0,106.0 595.5,115.0 596.0,125.0 598.0,133.3 603.0,136.0 608.0,139.0 611.5,145.0 612.5,155.0 611.5,165.0 610.5,179.7 542.5,179.7" fill="#4a5cb6"/>
<g fill="#b4b5de" opacity="1.0"><rect x="588.5" y="98.0" width="1.50" height="1.5"/><rect x="573.5" y="99.5" width="1.50" height="1.5"/><rect x="576.5" y="99.5" width="1.50" height="1.5"/><rect x="591.5" y="99.5" width="1.50" height="1.5"/><rect x="569.0" y="104.0" width="1.50" height="1.5"/><rect x="567.5" y="105.5" width="1.50" height="1.5"/><rect x="570.5" y="105.5" width="1.50" height="1.5"/><rect x="567.5" y="107.0" width="1.50" height="1.5"/><rect x="570.5" y="107.0" width="1.50" height="1.5"/><rect x="566.0" y="108.5" width="1.50" height="1.5"/><rect x="594.5" y="111.5" width="1.50" height="1.5"/><rect x="593.0" y="113.0" width="1.50" height="1.5"/><rect x="563.0" y="116.0" width="1.50" height="1.5"/><rect x="594.5" y="116.0" width="1.50" height="1.5"/><rect x="560.0" y="117.5" width="1.50" height="1.5"/><rect x="558.5" y="119.0" width="1.50" height="1.5"/><rect x="557.0" y="120.5" width="1.50" height="1.5"/><rect x="552.5" y="126.5" width="1.50" height="1.5"/><rect x="551.0" y="128.0" width="1.50" height="1.5"/><rect x="596.0" y="128.0" width="1.50" height="1.5"/><rect x="549.5" y="131.0" width="1.50" height="1.5"/><rect x="599.0" y="134.0" width="1.50" height="1.5"/><rect x="600.5" y="135.5" width="3.00" height="1.5"/><rect x="600.5" y="137.0" width="1.50" height="1.5"/><rect x="605.0" y="137.0" width="1.50" height="1.5"/><rect x="605.0" y="138.5" width="1.50" height="1.5"/><rect x="606.5" y="140.0" width="1.50" height="1.5"/><rect x="611.0" y="150.5" width="1.50" height="1.5"/><rect x="611.0" y="152.0" width="1.50" height="1.5"/><rect x="611.0" y="158.0" width="1.50" height="1.5"/><rect x="608.0" y="159.5" width="3.00" height="1.5"/></g>
<g fill="#a9aedd" opacity="1.0"><rect x="560.0" y="120.0" width="1.50" height="1.5"/><rect x="557.0" y="121.5" width="3.00" height="1.5"/><rect x="564.5" y="121.5" width="1.50" height="1.5"/><rect x="557.0" y="123.0" width="3.00" height="1.5"/><rect x="561.5" y="123.0" width="3.00" height="1.5"/><rect x="557.0" y="124.5" width="1.50" height="1.5"/><rect x="561.5" y="124.5" width="1.50" height="1.5"/><rect x="554.0" y="126.0" width="3.00" height="1.5"/><rect x="558.5" y="126.0" width="4.50" height="1.5"/><rect x="543.5" y="129.0" width="10.50" height="1.5"/><rect x="558.5" y="129.0" width="3.00" height="1.5"/><rect x="548.0" y="130.5" width="1.50" height="1.5"/><rect x="551.0" y="130.5" width="1.50" height="1.5"/><rect x="545.0" y="132.0" width="7.50" height="1.5"/><rect x="555.5" y="132.0" width="1.50" height="1.5"/><rect x="546.5" y="133.5" width="3.00" height="1.5"/><rect x="551.0" y="133.5" width="1.50" height="1.5"/><rect x="557.0" y="133.5" width="1.50" height="1.5"/><rect x="545.0" y="135.0" width="4.50" height="1.5"/><rect x="554.0" y="135.0" width="1.50" height="1.5"/><rect x="549.5" y="136.5" width="1.50" height="1.5"/><rect x="543.5" y="138.0" width="1.50" height="1.5"/><rect x="546.5" y="138.0" width="1.50" height="1.5"/><rect x="543.5" y="139.5" width="1.50" height="1.5"/><rect x="546.5" y="139.5" width="1.50" height="1.5"/><rect x="543.5" y="141.0" width="1.50" height="1.5"/></g>
<g fill="#a9aedd" opacity="1.0"><rect x="596.0" y="128.0" width="1.50" height="1.5"/><rect x="597.5" y="129.5" width="1.50" height="1.5"/><rect x="599.0" y="132.5" width="3.00" height="1.5"/><rect x="596.0" y="134.0" width="1.50" height="1.5"/><rect x="602.0" y="134.0" width="3.00" height="1.5"/><rect x="599.0" y="135.5" width="3.00" height="1.5"/><rect x="600.5" y="137.0" width="4.50" height="1.5"/><rect x="596.0" y="138.5" width="1.50" height="1.5"/><rect x="600.5" y="138.5" width="1.50" height="1.5"/><rect x="596.0" y="140.0" width="1.50" height="1.5"/><rect x="602.0" y="140.0" width="1.50" height="1.5"/><rect x="606.5" y="140.0" width="1.50" height="1.5"/><rect x="599.0" y="141.5" width="1.50" height="1.5"/><rect x="602.0" y="141.5" width="3.00" height="1.5"/><rect x="609.5" y="141.5" width="1.50" height="1.5"/><rect x="605.0" y="143.0" width="1.50" height="1.5"/><rect x="609.5" y="143.0" width="1.50" height="1.5"/><rect x="599.0" y="144.5" width="3.00" height="1.5"/><rect x="603.5" y="144.5" width="1.50" height="1.5"/><rect x="606.5" y="144.5" width="1.50" height="1.5"/><rect x="602.0" y="146.0" width="4.50" height="1.5"/><rect x="605.0" y="147.5" width="1.50" height="1.5"/></g>
<path d="M571.0,104.0 C572.2,101.8 574.7,101.5 577.0,101.0 C579.3,100.5 582.8,100.4 585.0,101.0 C587.2,101.6 589.0,102.5 590.0,104.5 C591.0,106.5 591.2,110.1 591.0,113.0 C590.8,115.9 590.0,119.4 589.0,122.0 C588.0,124.6 586.8,127.2 585.0,128.5 C583.2,129.8 580.2,130.1 578.0,129.5 C575.8,128.9 573.3,127.6 572.0,125.0 C570.7,122.4 570.2,117.5 570.0,114.0 C569.8,110.5 569.8,106.2 571.0,104.0Z" fill="#4690cc" opacity="0.75" filter="url(#b2)"/>
<path d="M574.0,107.0 C574.7,104.8 577.0,104.4 579.0,104.0 C581.0,103.6 584.4,103.7 586.0,104.5 C587.6,105.3 588.2,106.9 588.5,109.0 C588.8,111.1 588.6,114.8 588.0,117.0 C587.4,119.2 586.7,121.0 585.0,122.0 C583.3,123.0 579.7,123.8 578.0,123.0 C576.3,122.2 575.7,119.7 575.0,117.0 C574.3,114.3 573.3,109.2 574.0,107.0Z" fill="#4aaecb" opacity="0.8" filter="url(#b1)"/>
<path d="M576.5,108.5 C577.2,107.0 579.4,106.2 581.0,106.0 C582.6,105.8 585.0,106.0 586.0,107.0 C587.0,108.0 587.1,110.2 587.0,112.0 C586.9,113.8 586.6,116.8 585.5,118.0 C584.4,119.2 581.9,120.0 580.5,119.5 C579.1,119.0 577.7,116.8 577.0,115.0 C576.3,113.2 575.8,110.0 576.5,108.5Z" fill="#5ab85e" opacity="0.85" filter="url(#b1)"/>
<ellipse cx="581.8" cy="112.8" rx="3.2" ry="4.2" fill="#a8c84a" opacity="0.7" filter="url(#b1)"/>
<path d="M541.5,148.0 C543.1,141.9 547.9,145.3 551.0,144.0 C554.1,142.7 557.0,141.2 560.0,140.0 C563.0,138.8 566.2,137.8 569.0,137.0 C571.8,136.2 574.8,135.5 577.0,135.5 C579.2,135.5 581.0,135.1 582.0,137.0 C583.0,138.9 583.2,143.5 583.0,147.0 C582.8,150.5 582.3,154.7 581.0,158.0 C579.7,161.3 577.5,164.3 575.0,167.0 C572.5,169.7 571.6,171.7 566.0,174.0 C560.4,176.3 545.6,185.0 541.5,180.7 C537.4,176.4 539.9,154.1 541.5,148.0Z" fill="#4696cc" opacity="0.85" filter="url(#b2)"/>
<path d="M541.5,152.0 C543.1,146.8 547.9,149.7 551.0,148.5 C554.1,147.3 557.0,146.1 560.0,145.0 C563.0,143.9 566.3,142.7 569.0,142.0 C571.7,141.3 574.3,140.5 576.0,141.0 C577.7,141.5 578.8,142.7 579.0,145.0 C579.2,147.3 578.3,151.8 577.0,155.0 C575.7,158.2 573.5,161.2 571.0,164.0 C568.5,166.8 565.5,169.4 562.0,172.0 C558.5,174.6 553.4,178.4 550.0,179.7 C546.6,181.0 542.9,184.3 541.5,179.7 C540.1,175.1 539.9,157.2 541.5,152.0Z" fill="#52b95f" opacity="0.92" filter="url(#b1)"/>
<ellipse cx="560.5" cy="160.5" rx="11" ry="6.8" fill="#b2cc44" opacity="0.8" filter="url(#b2)" transform="rotate(-28 560.5 160.5)"/>
<ellipse cx="560.0" cy="160.5" rx="7.5" ry="4.2" fill="#de8a3c" opacity="0.7" filter="url(#b2)" transform="rotate(-28 560.0 160.5)"/>
<ellipse cx="594.8" cy="164.6" rx="14.5" ry="14.0" fill="#4a9acb" opacity="0.9" filter="url(#b2)"/>
<ellipse cx="594.6" cy="164.4" rx="11.2" ry="11.6" fill="#56bb5c" opacity="0.95" filter="url(#b1)"/>
<ellipse cx="594.5" cy="164.2" rx="9.0" ry="9.6" fill="#d6bf42" opacity="0.95" filter="url(#b1)"/>
<ellipse cx="594.4" cy="164.2" rx="7.6" ry="8.4" fill="#df7a3c" opacity="0.95" filter="url(#b1)"/>
<ellipse cx="594.4" cy="164.2" rx="6.3" ry="7.2" fill="#cb2a42" opacity="0.97" filter="url(#b1)"/>
<g fill="#d8343f" opacity="0.9"><rect x="560.4" y="152.7" width="1.5" height="1.5"/><rect x="563.4" y="152.7" width="1.5" height="1.5"/><rect x="554.4" y="154.2" width="1.5" height="1.5"/><rect x="560.4" y="157.2" width="1.5" height="1.5"/><rect x="551.4" y="158.7" width="1.5" height="1.5"/><rect x="552.9" y="160.2" width="1.5" height="1.5"/><rect x="554.4" y="160.2" width="1.5" height="1.5"/><rect x="558.9" y="160.2" width="1.5" height="1.5"/><rect x="569.4" y="160.2" width="1.5" height="1.5"/><rect x="561.9" y="161.7" width="1.5" height="1.5"/><rect x="555.9" y="163.2" width="1.5" height="1.5"/></g><g fill="#e98c3a" opacity="0.9"><rect x="555.9" y="154.2" width="1.5" height="1.5"/><rect x="561.9" y="157.2" width="1.5" height="1.5"/><rect x="555.9" y="158.7" width="1.5" height="1.5"/><rect x="567.9" y="161.7" width="1.5" height="1.5"/><rect x="558.9" y="163.2" width="1.5" height="1.5"/><rect x="549.9" y="164.7" width="1.5" height="1.5"/></g><g fill="#c9d040" opacity="0.9"><rect x="554.4" y="155.7" width="1.5" height="1.5"/><rect x="570.9" y="155.7" width="1.5" height="1.5"/><rect x="554.4" y="157.2" width="1.5" height="1.5"/><rect x="569.4" y="161.7" width="1.5" height="1.5"/><rect x="560.4" y="163.2" width="1.5" height="1.5"/><rect x="558.9" y="164.7" width="1.5" height="1.5"/></g><g fill="#5cbf55" opacity="0.9"><rect x="558.9" y="152.7" width="1.5" height="1.5"/><rect x="566.4" y="152.7" width="1.5" height="1.5"/><rect x="564.9" y="154.2" width="1.5" height="1.5"/><rect x="557.4" y="155.7" width="1.5" height="1.5"/><rect x="566.4" y="155.7" width="1.5" height="1.5"/><rect x="567.9" y="155.7" width="1.5" height="1.5"/><rect x="569.4" y="158.7" width="1.5" height="1.5"/><rect x="567.9" y="160.2" width="1.5" height="1.5"/><rect x="548.4" y="161.7" width="1.5" height="1.5"/><rect x="549.9" y="161.7" width="1.5" height="1.5"/><rect x="551.4" y="161.7" width="1.5" height="1.5"/><rect x="549.9" y="163.2" width="1.5" height="1.5"/><rect x="554.4" y="163.2" width="1.5" height="1.5"/><rect x="557.4" y="166.2" width="1.5" height="1.5"/><rect x="560.4" y="166.2" width="1.5" height="1.5"/><rect x="561.9" y="166.2" width="1.5" height="1.5"/><rect x="551.4" y="167.7" width="1.5" height="1.5"/><rect x="558.9" y="167.7" width="1.5" height="1.5"/><rect x="560.4" y="167.7" width="1.5" height="1.5"/></g>
<g fill="#e98c3a" opacity="0.9"><rect x="586.5" y="158.8" width="1.5" height="1.5"/><rect x="597.0" y="158.8" width="1.5" height="1.5"/><rect x="588.0" y="160.3" width="1.5" height="1.5"/><rect x="601.5" y="161.8" width="1.5" height="1.5"/><rect x="601.5" y="170.8" width="1.5" height="1.5"/></g><g fill="#d8c440" opacity="0.9"><rect x="598.5" y="158.8" width="1.5" height="1.5"/><rect x="583.5" y="161.8" width="1.5" height="1.5"/><rect x="604.5" y="161.8" width="1.5" height="1.5"/><rect x="588.0" y="163.3" width="1.5" height="1.5"/><rect x="597.0" y="163.3" width="1.5" height="1.5"/><rect x="604.5" y="163.3" width="1.5" height="1.5"/><rect x="585.0" y="166.3" width="1.5" height="1.5"/><rect x="600.0" y="170.8" width="1.5" height="1.5"/></g><g fill="#d0303f" opacity="0.9"><rect x="592.5" y="155.8" width="1.5" height="1.5"/><rect x="601.5" y="155.8" width="1.5" height="1.5"/><rect x="583.5" y="163.3" width="1.5" height="1.5"/><rect x="600.0" y="163.3" width="1.5" height="1.5"/><rect x="600.0" y="164.8" width="1.5" height="1.5"/><rect x="601.5" y="166.3" width="1.5" height="1.5"/><rect x="603.0" y="166.3" width="1.5" height="1.5"/><rect x="595.5" y="173.8" width="1.5" height="1.5"/></g><g fill="#5cbf55" opacity="0.9"><rect x="592.5" y="152.8" width="1.5" height="1.5"/><rect x="592.5" y="154.3" width="1.5" height="1.5"/><rect x="595.5" y="158.8" width="1.5" height="1.5"/><rect x="595.5" y="160.3" width="1.5" height="1.5"/><rect x="598.5" y="160.3" width="1.5" height="1.5"/><rect x="600.0" y="160.3" width="1.5" height="1.5"/><rect x="601.5" y="160.3" width="1.5" height="1.5"/><rect x="589.5" y="161.8" width="1.5" height="1.5"/><rect x="585.0" y="163.3" width="1.5" height="1.5"/><rect x="592.5" y="163.3" width="1.5" height="1.5"/><rect x="603.0" y="163.3" width="1.5" height="1.5"/><rect x="586.5" y="167.8" width="1.5" height="1.5"/><rect x="598.5" y="169.3" width="1.5" height="1.5"/><rect x="601.5" y="169.3" width="1.5" height="1.5"/><rect x="597.0" y="173.8" width="1.5" height="1.5"/></g>
<g fill="#a8cc45" opacity="0.9"><rect x="586.0" y="111.5" width="1.5" height="1.5"/><rect x="574.0" y="116.0" width="1.5" height="1.5"/><rect x="578.5" y="117.5" width="1.5" height="1.5"/></g><g fill="#5cbf55" opacity="0.9"><rect x="580.0" y="104.0" width="1.5" height="1.5"/><rect x="575.5" y="108.5" width="1.5" height="1.5"/><rect x="586.0" y="108.5" width="1.5" height="1.5"/><rect x="581.5" y="111.5" width="1.5" height="1.5"/><rect x="580.0" y="114.5" width="1.5" height="1.5"/><rect x="581.5" y="114.5" width="1.5" height="1.5"/><rect x="583.0" y="116.0" width="1.5" height="1.5"/><rect x="577.0" y="117.5" width="1.5" height="1.5"/></g><g fill="#47b0cc" opacity="0.9"><rect x="578.5" y="104.0" width="1.5" height="1.5"/><rect x="578.5" y="114.5" width="1.5" height="1.5"/><rect x="580.0" y="117.5" width="1.5" height="1.5"/></g><g fill="#e9a03a" opacity="0.9"><rect x="577.0" y="108.5" width="1.5" height="1.5"/><rect x="586.0" y="110.0" width="1.5" height="1.5"/><rect x="574.0" y="111.5" width="1.5" height="1.5"/><rect x="578.5" y="116.0" width="1.5" height="1.5"/><rect x="584.5" y="116.0" width="1.5" height="1.5"/></g>
<g fill="#47a8cc" opacity="0.9"><rect x="581.0" y="108.0" width="1.5" height="1.5"/><rect x="569.0" y="112.5" width="1.5" height="1.5"/><rect x="567.5" y="114.0" width="1.5" height="1.5"/><rect x="587.0" y="115.5" width="1.5" height="1.5"/><rect x="585.5" y="118.5" width="1.5" height="1.5"/><rect x="579.5" y="126.0" width="1.5" height="1.5"/><rect x="582.5" y="130.5" width="1.5" height="1.5"/></g><g fill="#4a5cb6" opacity="0.9"><rect x="575.0" y="108.0" width="1.5" height="1.5"/><rect x="581.0" y="111.0" width="1.5" height="1.5"/><rect x="582.5" y="111.0" width="1.5" height="1.5"/><rect x="590.0" y="112.5" width="1.5" height="1.5"/><rect x="572.0" y="114.0" width="1.5" height="1.5"/><rect x="569.0" y="115.5" width="1.5" height="1.5"/><rect x="591.5" y="117.0" width="1.5" height="1.5"/><rect x="575.0" y="118.5" width="1.5" height="1.5"/><rect x="590.0" y="118.5" width="1.5" height="1.5"/><rect x="569.0" y="120.0" width="1.5" height="1.5"/><rect x="590.0" y="120.0" width="1.5" height="1.5"/><rect x="569.0" y="123.0" width="1.5" height="1.5"/><rect x="579.5" y="124.5" width="1.5" height="1.5"/><rect x="591.5" y="126.0" width="1.5" height="1.5"/><rect x="569.0" y="129.0" width="1.5" height="1.5"/><rect x="579.5" y="129.0" width="1.5" height="1.5"/><rect x="587.0" y="129.0" width="1.5" height="1.5"/><rect x="579.5" y="130.5" width="1.5" height="1.5"/><rect x="585.5" y="130.5" width="1.5" height="1.5"/><rect x="584.0" y="132.0" width="1.5" height="1.5"/></g><g fill="#5cbf55" opacity="0.9"><rect x="572.0" y="109.5" width="1.5" height="1.5"/><rect x="584.0" y="109.5" width="1.5" height="1.5"/><rect x="567.5" y="115.5" width="1.5" height="1.5"/><rect x="590.0" y="115.5" width="1.5" height="1.5"/><rect x="569.0" y="117.0" width="1.5" height="1.5"/><rect x="570.5" y="117.0" width="1.5" height="1.5"/><rect x="570.5" y="118.5" width="1.5" height="1.5"/><rect x="581.0" y="118.5" width="1.5" height="1.5"/><rect x="567.5" y="120.0" width="1.5" height="1.5"/><rect x="567.5" y="123.0" width="1.5" height="1.5"/><rect x="588.5" y="123.0" width="1.5" height="1.5"/><rect x="567.5" y="126.0" width="1.5" height="1.5"/><rect x="581.0" y="126.0" width="1.5" height="1.5"/><rect x="588.5" y="127.5" width="1.5" height="1.5"/><rect x="573.5" y="129.0" width="1.5" height="1.5"/><rect x="576.5" y="130.5" width="1.5" height="1.5"/></g>
<g fill="#47a8cc" opacity="0.9"><rect x="558.5" y="146.9" width="1.5" height="1.5"/><rect x="569.0" y="148.4" width="1.5" height="1.5"/><rect x="554.0" y="149.9" width="1.5" height="1.5"/><rect x="569.0" y="151.4" width="1.5" height="1.5"/><rect x="576.5" y="151.4" width="1.5" height="1.5"/><rect x="579.5" y="152.9" width="1.5" height="1.5"/><rect x="552.5" y="155.9" width="1.5" height="1.5"/><rect x="564.5" y="161.9" width="1.5" height="1.5"/><rect x="561.5" y="163.4" width="1.5" height="1.5"/><rect x="563.0" y="167.9" width="1.5" height="1.5"/><rect x="551.0" y="169.4" width="1.5" height="1.5"/></g><g fill="#5cbf55" opacity="0.9"><rect x="573.5" y="143.9" width="1.5" height="1.5"/><rect x="557.0" y="146.9" width="1.5" height="1.5"/><rect x="576.5" y="148.4" width="1.5" height="1.5"/><rect x="555.5" y="151.4" width="1.5" height="1.5"/><rect x="560.0" y="151.4" width="1.5" height="1.5"/><rect x="548.0" y="152.9" width="1.5" height="1.5"/><rect x="552.5" y="152.9" width="1.5" height="1.5"/><rect x="554.0" y="152.9" width="1.5" height="1.5"/><rect x="563.0" y="154.4" width="1.5" height="1.5"/><rect x="569.0" y="154.4" width="1.5" height="1.5"/><rect x="554.0" y="155.9" width="1.5" height="1.5"/><rect x="573.5" y="157.4" width="1.5" height="1.5"/><rect x="552.5" y="158.9" width="1.5" height="1.5"/><rect x="561.5" y="158.9" width="1.5" height="1.5"/><rect x="554.0" y="164.9" width="1.5" height="1.5"/><rect x="546.5" y="166.4" width="1.5" height="1.5"/><rect x="549.5" y="167.9" width="1.5" height="1.5"/><rect x="554.0" y="167.9" width="1.5" height="1.5"/></g><g fill="#a8cc45" opacity="0.9"><rect x="564.5" y="143.9" width="1.5" height="1.5"/><rect x="578.0" y="146.9" width="1.5" height="1.5"/><rect x="573.5" y="148.4" width="1.5" height="1.5"/><rect x="555.5" y="149.9" width="1.5" height="1.5"/><rect x="566.0" y="149.9" width="1.5" height="1.5"/><rect x="576.5" y="149.9" width="1.5" height="1.5"/><rect x="576.5" y="158.9" width="1.5" height="1.5"/><rect x="554.0" y="160.4" width="1.5" height="1.5"/><rect x="558.5" y="161.9" width="1.5" height="1.5"/><rect x="551.0" y="164.9" width="1.5" height="1.5"/><rect x="561.5" y="164.9" width="1.5" height="1.5"/><rect x="552.5" y="166.4" width="1.5" height="1.5"/><rect x="551.0" y="167.9" width="1.5" height="1.5"/><rect x="555.5" y="170.9" width="1.5" height="1.5"/></g>
<rect x="543.5" y="176.2" width="62" height="1.5" fill="#c8607f" opacity="0.8"/>
<g fill="#4a5cb6" opacity="0.85"><rect x="570.8" y="71.3" width="1.4" height="1.4"/><rect x="587.4" y="60.7" width="1.4" height="1.4"/><rect x="630.7" y="127.2" width="1.4" height="1.4"/><rect x="632.8" y="126.7" width="1.4" height="1.4"/><rect x="629.0" y="145.3" width="1.4" height="1.4"/><rect x="627.3" y="133.8" width="1.4" height="1.4"/><rect x="606.8" y="103.3" width="1.4" height="1.4"/><rect x="604.8" y="111.3" width="1.4" height="1.4"/><rect x="603.3" y="119.3" width="1.4" height="1.4"/><rect x="609.3" y="99.3" width="1.4" height="1.4"/><rect x="611.3" y="114.3" width="1.4" height="1.4"/></g>
<line x1="546.0" y1="60.9" x2="563.9" y2="68.9" stroke="#111" stroke-width="1.1"/><polygon points="568.7,71.1 562.3,70.1 563.7,67.0" fill="#111"/>
<line x1="613.6" y1="72.0" x2="595.4" y2="65.9" stroke="#111" stroke-width="1.1"/><polygon points="590.4,64.2 596.9,64.6 595.8,67.8" fill="#111"/>
<line x1="654.8" y1="109.2" x2="640.3" y2="121.7" stroke="#111" stroke-width="1.1"/><polygon points="636.3,125.2 640.0,119.8 642.2,122.4" fill="#111"/>
</g>
<line x1="584.0" y1="43.8" x2="584.0" y2="177.7" stroke="#222" stroke-width="1.6"/>
<line x1="543.5" y1="133.5" x2="678.5" y2="133.5" stroke="#111" stroke-width="1.3"/>
<path d="M543.5,43.8 H678.5 V177.7" fill="none" stroke="#888" stroke-width="1.2"/>
<path d="M543.5,43.199999999999996 V177.7 H679.1" fill="none" stroke="#111" stroke-width="1.2"/>
<path d="M543.50,177.7 v3.6 M543.5,177.70 h-3.6 M553.66,177.7 v2 M543.5,167.62 h-2 M559.60,177.7 v2 M543.5,161.73 h-2 M563.82,177.7 v2 M543.5,157.55 h-2 M567.09,177.7 v2 M543.5,154.30 h-2 M569.76,177.7 v2 M543.5,151.65 h-2 M572.02,177.7 v2 M543.5,149.41 h-2 M573.98,177.7 v2 M543.5,147.47 h-2 M575.71,177.7 v2 M543.5,145.76 h-2 M577.25,177.7 v3.6 M543.5,144.22 h-3.6 M587.41,177.7 v2 M543.5,134.15 h-2 M593.35,177.7 v2 M543.5,128.25 h-2 M597.57,177.7 v2 M543.5,124.07 h-2 M600.84,177.7 v2 M543.5,120.83 h-2 M603.51,177.7 v2 M543.5,118.18 h-2 M605.77,177.7 v2 M543.5,115.94 h-2 M607.73,177.7 v2 M543.5,113.99 h-2 M609.46,177.7 v2 M543.5,112.28 h-2 M611.00,177.7 v3.6 M543.5,110.75 h-3.6 M621.16,177.7 v2 M543.5,100.67 h-2 M627.10,177.7 v2 M543.5,94.78 h-2 M631.32,177.7 v2 M543.5,90.60 h-2 M634.59,177.7 v2 M543.5,87.35 h-2 M637.26,177.7 v2 M543.5,84.70 h-2 M639.52,177.7 v2 M543.5,82.46 h-2 M641.48,177.7 v2 M543.5,80.52 h-2 M643.21,177.7 v2 M543.5,78.81 h-2 M644.75,177.7 v3.6 M543.5,77.28 h-3.6 M654.91,177.7 v2 M543.5,67.20 h-2 M660.85,177.7 v2 M543.5,61.30 h-2 M665.07,177.7 v2 M543.5,57.12 h-2 M668.34,177.7 v2 M543.5,53.88 h-2 M671.01,177.7 v2 M543.5,51.23 h-2 M673.27,177.7 v2 M543.5,48.99 h-2 M675.23,177.7 v2 M543.5,47.04 h-2 M676.96,177.7 v2 M543.5,45.33 h-2 M678.50,177.7 v3.6 M543.5,43.80 h-3.6" stroke="#222" stroke-width="0.8" fill="none"/>
<text x="545.80" y="191.90" font-size="7.2" fill="#444">10<tspan dy="-4.2" font-size="5.6">0</tspan></text>
<text x="576.25" y="191.90" font-size="7.2" fill="#444">10<tspan dy="-4.2" font-size="5.6">1</tspan></text>
<text x="610.00" y="191.90" font-size="7.2" fill="#444">10<tspan dy="-4.2" font-size="5.6">2</tspan></text>
<text x="643.75" y="191.90" font-size="7.2" fill="#444">10<tspan dy="-4.2" font-size="5.6">3</tspan></text>
<text x="668.00" y="191.90" font-size="7.2" fill="#444">10<tspan dy="-4.2" font-size="5.6">4</tspan></text>
<text x="526.90" y="178.20" font-size="7.2" fill="#444">10<tspan dy="-4.2" font-size="5.6">0</tspan></text>
<text x="526.90" y="149.42" font-size="7.2" fill="#444">10<tspan dy="-4.2" font-size="5.6">1</tspan></text>
<text x="526.90" y="115.95" font-size="7.2" fill="#444">10<tspan dy="-4.2" font-size="5.6">2</tspan></text>
<text x="526.90" y="82.48" font-size="7.2" fill="#444">10<tspan dy="-4.2" font-size="5.6">3</tspan></text>
<text x="526.90" y="54.90" font-size="7.2" fill="#444">10<tspan dy="-4.2" font-size="5.6">4</tspan></text>
<text x="545.90" y="55.10" font-size="10.5" font-weight="normal" text-anchor="start" fill="#1a1a1a" >HER2+</text>
<text x="675.80" y="55.10" font-size="10.5" font-weight="normal" text-anchor="end" fill="#1a1a1a" >HER2+ EpCAM+</text>
<text x="675.80" y="173.00" font-size="10.5" font-weight="normal" text-anchor="end" fill="#1a1a1a" >EpCAM+</text>
<text x="611.50" y="205.90" font-size="12.1" font-weight="normal" text-anchor="middle" fill="#1a1a1a" >EpCAM (FITC)</text>
<text x="31.00" y="218.20" font-size="12.25" font-weight="normal" text-anchor="start" fill="#1a1a1a" xml:space="preserve">(gated:  viable, CD45-negative)</text>
<text transform="translate(15.4,108.2) rotate(-90)" font-size="12.5" text-anchor="middle" fill="#1a1a1a">HER2 (PE)</text>
<rect x="34.9" y="239.1" width="277.90000000000003" height="89.50000000000003" fill="#d6e5f1"/>
<rect x="34.9" y="239.1" width="277.90000000000003" height="17.799999999999983" fill="#6ea1cf"/>
<rect x="34.9" y="239.1" width="76.69999999999999" height="89.50000000000003" fill="#6ea1cf"/>
<line x1="34.9" y1="256.9" x2="312.8" y2="256.9" stroke="#f4f8fb" stroke-width="1.6"/>
<line x1="34.9" y1="274.4" x2="312.8" y2="274.4" stroke="#e6eef6" stroke-width="1" opacity="0.7"/>
<line x1="34.9" y1="302.2" x2="312.8" y2="302.2" stroke="#e6eef6" stroke-width="1" opacity="0.7"/>
<line x1="111.6" y1="239.1" x2="111.6" y2="328.6" stroke="#eef4f9" stroke-width="1.1" opacity="0.85"/>
<line x1="187.3" y1="239.1" x2="187.3" y2="328.6" stroke="#eef4f9" stroke-width="1.1" opacity="0.85"/>
<line x1="252.4" y1="239.1" x2="252.4" y2="328.6" stroke="#eef4f9" stroke-width="1.1" opacity="0.85"/>
<text x="149.50" y="249.70" font-size="9.3" font-weight="bold" text-anchor="middle" fill="#fff" letter-spacing="0.2">IHC-Negative</text>
<text x="219.90" y="249.70" font-size="9.3" font-weight="bold" text-anchor="middle" fill="#fff" letter-spacing="0.2">IHC-Positive</text>
<text x="282.60" y="249.70" font-size="9.3" font-weight="bold" text-anchor="middle" fill="#fff" letter-spacing="0.2">Total</text>
<text x="108.60" y="267.60" font-size="9.3" font-weight="bold" text-anchor="end" fill="#fff" letter-spacing="0.2">Flow-Negative</text>
<text x="108.60" y="285.40" font-size="9.3" font-weight="bold" text-anchor="end" fill="#fff" letter-spacing="0.2">Flow-Positive</text>
<text x="108.60" y="312.80" font-size="9.3" font-weight="bold" text-anchor="end" fill="#fff" letter-spacing="0.2">Total</text>
<text x="149.70" y="267.70" font-size="9.3" font-weight="normal" text-anchor="middle" fill="#222" >13 (31%)</text>
<text x="149.70" y="285.40" font-size="9.3" font-weight="normal" text-anchor="middle" fill="#e0393e" >17 (40%)</text>
<text x="219.90" y="267.70" font-size="9.3" font-weight="normal" text-anchor="middle" fill="#e0393e" >2 (5%)</text>
<text x="220.20" y="285.40" font-size="9.3" font-weight="normal" text-anchor="middle" fill="#222" >10 (24%)</text>
<text x="282.70" y="285.90" font-size="9.3" font-weight="normal" text-anchor="middle" fill="#222" >27</text>
<text x="282.90" y="297.30" font-size="9.3" font-weight="normal" text-anchor="middle" fill="#222" >(64%)</text>
<text x="220.50" y="313.00" font-size="9.3" font-weight="normal" text-anchor="middle" fill="#222" >12</text>
<text x="219.80" y="324.80" font-size="9.3" font-weight="normal" text-anchor="middle" fill="#222" >(29%)</text>
<line x1="125.7" y1="358.0" x2="125.7" y2="452.59999999999997" stroke="#111" stroke-width="1.5"/>
<line x1="125.0" y1="451.9" x2="266.1" y2="451.9" stroke="#111" stroke-width="1.5"/>
<line x1="121.7" y1="451.90" x2="125.7" y2="451.90" stroke="#111" stroke-width="1.3"/>
<text x="120.10" y="454.90" font-size="8.4" font-weight="bold" text-anchor="end" fill="#111" >0</text>
<line x1="121.7" y1="433.26" x2="125.7" y2="433.26" stroke="#111" stroke-width="1.3"/>
<text x="120.10" y="436.26" font-size="8.4" font-weight="bold" text-anchor="end" fill="#111" >5</text>
<line x1="121.7" y1="414.62" x2="125.7" y2="414.62" stroke="#111" stroke-width="1.3"/>
<text x="120.10" y="417.62" font-size="8.4" font-weight="bold" text-anchor="end" fill="#111" >10</text>
<line x1="121.7" y1="395.98" x2="125.7" y2="395.98" stroke="#111" stroke-width="1.3"/>
<text x="120.10" y="398.98" font-size="8.4" font-weight="bold" text-anchor="end" fill="#111" >15</text>
<line x1="121.7" y1="377.34" x2="125.7" y2="377.34" stroke="#111" stroke-width="1.3"/>
<text x="120.10" y="380.34" font-size="8.4" font-weight="bold" text-anchor="end" fill="#111" >20</text>
<line x1="121.7" y1="358.70" x2="125.7" y2="358.70" stroke="#111" stroke-width="1.3"/>
<text x="120.10" y="361.70" font-size="8.4" font-weight="bold" text-anchor="end" fill="#111" >25</text>
<line x1="166.0" y1="451.9" x2="166.0" y2="455.4" stroke="#111" stroke-width="1.3"/>
<line x1="225.6" y1="451.9" x2="225.6" y2="455.4" stroke="#111" stroke-width="1.3"/>
<line x1="165.6" y1="425.80" x2="165.6" y2="447.43" stroke="#111" stroke-width="1.6"/>
<line x1="156.2" y1="425.80" x2="175.4" y2="425.80" stroke="#111" stroke-width="1.6"/>
<rect x="146.2" y="444.4" width="39.2" height="3.7" fill="#111"/>
<line x1="226.0" y1="373.61" x2="226.0" y2="418.35" stroke="#111" stroke-width="1.6"/>
<line x1="216.2" y1="373.61" x2="236.2" y2="373.61" stroke="#111" stroke-width="1.6"/>
<rect x="206.8" y="418.35" width="38.4" height="29.26" fill="none" stroke="#111" stroke-width="1.5"/>
<line x1="206.8" y1="429.53" x2="245.2" y2="429.53" stroke="#111" stroke-width="1.5"/>
<text transform="translate(106.0,403.6) rotate(-90)" font-size="10.8" font-weight="bold" text-anchor="middle" fill="#111">Number of DTCs</text>
<text x="169.60" y="467.60" font-size="10.8" font-weight="normal" text-anchor="middle" fill="#1a1a1a" >IHC+</text>
<text x="228.40" y="467.60" font-size="10.8" font-weight="normal" text-anchor="middle" fill="#1a1a1a" >Flow+</text>
<text x="42.00" y="482.20" font-size="11.2" font-weight="bold" text-anchor="start" fill="#111" >Median DTC Count</text>
<text x="165.80" y="482.20" font-size="11.2" font-weight="bold" text-anchor="middle" fill="#111" >1.5</text>
<text x="226.80" y="482.20" font-size="11.2" font-weight="bold" text-anchor="middle" fill="#111" >6.0</text>
<line x1="438.7" y1="233.4" x2="438.7" y2="428.8" stroke="#111" stroke-width="1.5"/>
<line x1="438.0" y1="428.1" x2="630.5" y2="428.1" stroke="#111" stroke-width="1.5"/>
<line x1="434.7" y1="428.10" x2="438.7" y2="428.10" stroke="#111" stroke-width="1.3"/>
<text x="432.30" y="432.00" font-size="11" font-weight="bold" text-anchor="end" fill="#111" >0</text>
<line x1="434.7" y1="379.60" x2="438.7" y2="379.60" stroke="#111" stroke-width="1.3"/>
<text x="432.30" y="383.50" font-size="11" font-weight="bold" text-anchor="end" fill="#111" >5</text>
<line x1="434.7" y1="331.10" x2="438.7" y2="331.10" stroke="#111" stroke-width="1.3"/>
<text x="432.30" y="335.00" font-size="11" font-weight="bold" text-anchor="end" fill="#111" >10</text>
<line x1="434.7" y1="282.60" x2="438.7" y2="282.60" stroke="#111" stroke-width="1.3"/>
<text x="432.30" y="286.50" font-size="11" font-weight="bold" text-anchor="end" fill="#111" >15</text>
<line x1="434.7" y1="234.10" x2="438.7" y2="234.10" stroke="#111" stroke-width="1.3"/>
<text x="432.30" y="238.00" font-size="11" font-weight="bold" text-anchor="end" fill="#111" >20</text>
<line x1="454.2" y1="428.1" x2="454.2" y2="431.1" stroke="#111" stroke-width="1.2"/>
<line x1="484.4" y1="428.1" x2="484.4" y2="431.1" stroke="#111" stroke-width="1.2"/>
<line x1="519.3" y1="428.1" x2="519.3" y2="431.1" stroke="#111" stroke-width="1.2"/>
<line x1="549.5" y1="428.1" x2="549.5" y2="431.1" stroke="#111" stroke-width="1.2"/>
<line x1="584.9" y1="428.1" x2="584.9" y2="431.1" stroke="#111" stroke-width="1.2"/>
<line x1="614.8" y1="428.1" x2="614.8" y2="431.1" stroke="#111" stroke-width="1.2"/>
<circle cx="454.20" cy="248.65" r="2.3" fill="#4a5cba"/>
<circle cx="454.20" cy="292.30" r="2.3" fill="#4a5cba"/>
<circle cx="454.20" cy="311.70" r="2.3" fill="#4a5cba"/>
<circle cx="454.20" cy="321.40" r="2.3" fill="#4a5cba"/>
<circle cx="454.20" cy="331.10" r="2.3" fill="#4a5cba"/>
<circle cx="454.20" cy="355.35" r="2.3" fill="#4a5cba"/>
<circle cx="453.20" cy="360.20" r="2.3" fill="#4a5cba"/>
<circle cx="455.20" cy="361.66" r="2.3" fill="#4a5cba"/>
<circle cx="454.20" cy="379.60" r="2.3" fill="#4a5cba"/>
<circle cx="452.40" cy="389.30" r="2.3" fill="#4a5cba"/>
<circle cx="454.20" cy="389.30" r="2.3" fill="#4a5cba"/>
<circle cx="456.00" cy="389.30" r="2.3" fill="#4a5cba"/>
<circle cx="454.20" cy="394.15" r="2.3" fill="#4a5cba"/>
<circle cx="453.00" cy="397.06" r="2.3" fill="#4a5cba"/>
<circle cx="455.20" cy="399.00" r="2.3" fill="#4a5cba"/>
<circle cx="454.20" cy="403.85" r="2.3" fill="#4a5cba"/>
<circle cx="453.30" cy="408.70" r="2.3" fill="#4a5cba"/>
<circle cx="455.10" cy="408.70" r="2.3" fill="#4a5cba"/>
<circle cx="450.15" cy="418.40" r="2.3" fill="#4a5cba"/>
<circle cx="452.85" cy="418.40" r="2.3" fill="#4a5cba"/>
<circle cx="455.55" cy="418.40" r="2.3" fill="#4a5cba"/>
<circle cx="458.25" cy="418.40" r="2.3" fill="#4a5cba"/>
<circle cx="447.00" cy="428.10" r="2.3" fill="#4a5cba"/>
<circle cx="449.40" cy="428.10" r="2.3" fill="#4a5cba"/>
<circle cx="451.80" cy="428.10" r="2.3" fill="#4a5cba"/>
<circle cx="454.20" cy="428.10" r="2.3" fill="#4a5cba"/>
<circle cx="456.60" cy="428.10" r="2.3" fill="#4a5cba"/>
<circle cx="459.00" cy="428.10" r="2.3" fill="#4a5cba"/>
<circle cx="461.40" cy="428.10" r="2.3" fill="#4a5cba"/>
<circle cx="476.70" cy="428.10" r="2.3" fill="#e4398e"/>
<circle cx="479.25" cy="428.10" r="2.3" fill="#e4398e"/>
<circle cx="481.80" cy="428.10" r="2.3" fill="#e4398e"/>
<circle cx="484.35" cy="428.10" r="2.3" fill="#e4398e"/>
<circle cx="486.90" cy="428.10" r="2.3" fill="#e4398e"/>
<circle cx="489.45" cy="428.10" r="2.3" fill="#e4398e"/>
<circle cx="492.00" cy="428.10" r="2.3" fill="#e4398e"/>
<circle cx="519.40" cy="374.75" r="2.3" fill="#4a5cba"/>
<circle cx="519.40" cy="379.60" r="2.3" fill="#4a5cba"/>
<circle cx="519.40" cy="389.30" r="2.3" fill="#4a5cba"/>
<circle cx="519.40" cy="394.15" r="2.3" fill="#4a5cba"/>
<circle cx="517.60" cy="399.00" r="2.3" fill="#4a5cba"/>
<circle cx="519.40" cy="399.00" r="2.3" fill="#4a5cba"/>
<circle cx="521.20" cy="399.00" r="2.3" fill="#4a5cba"/>
<circle cx="517.35" cy="408.70" r="2.3" fill="#4a5cba"/>
<circle cx="519.40" cy="408.70" r="2.3" fill="#4a5cba"/>
<circle cx="521.45" cy="408.70" r="2.3" fill="#4a5cba"/>
<circle cx="515.95" cy="418.40" r="2.3" fill="#4a5cba"/>
<circle cx="518.25" cy="418.40" r="2.3" fill="#4a5cba"/>
<circle cx="520.55" cy="418.40" r="2.3" fill="#4a5cba"/>
<circle cx="522.85" cy="418.40" r="2.3" fill="#4a5cba"/>
<circle cx="511.35" cy="428.10" r="2.3" fill="#4a5cba"/>
<circle cx="513.65" cy="428.10" r="2.3" fill="#4a5cba"/>
<circle cx="515.95" cy="428.10" r="2.3" fill="#4a5cba"/>
<circle cx="518.25" cy="428.10" r="2.3" fill="#4a5cba"/>
<circle cx="520.55" cy="428.10" r="2.3" fill="#4a5cba"/>
<circle cx="522.85" cy="428.10" r="2.3" fill="#4a5cba"/>
<circle cx="525.15" cy="428.10" r="2.3" fill="#4a5cba"/>
<circle cx="527.45" cy="428.10" r="2.3" fill="#4a5cba"/>
<circle cx="549.50" cy="408.70" r="2.3" fill="#e4398e"/>
<circle cx="541.30" cy="418.40" r="2.3" fill="#e4398e"/>
<circle cx="546.80" cy="418.40" r="2.3" fill="#e4398e"/>
<circle cx="552.30" cy="418.40" r="2.3" fill="#e4398e"/>
<circle cx="558.00" cy="418.40" r="2.3" fill="#e4398e"/>
<circle cx="546.80" cy="425.19" r="2.3" fill="#e4398e"/>
<circle cx="541.30" cy="428.10" r="2.3" fill="#e4398e"/>
<circle cx="552.30" cy="428.10" r="2.3" fill="#e4398e"/>
<circle cx="558.00" cy="428.10" r="2.3" fill="#e4398e"/>
<circle cx="584.90" cy="408.70" r="2.3" fill="#4a5cba"/>
<circle cx="584.90" cy="416.46" r="2.3" fill="#4a5cba"/>
<circle cx="584.90" cy="418.40" r="2.3" fill="#4a5cba"/>
<circle cx="584.90" cy="424.22" r="2.3" fill="#4a5cba"/>
<circle cx="584.90" cy="425.19" r="2.3" fill="#4a5cba"/>
<circle cx="577.70" cy="428.10" r="2.3" fill="#4a5cba"/>
<circle cx="580.10" cy="428.10" r="2.3" fill="#4a5cba"/>
<circle cx="582.50" cy="428.10" r="2.3" fill="#4a5cba"/>
<circle cx="584.90" cy="428.10" r="2.3" fill="#4a5cba"/>
<circle cx="587.30" cy="428.10" r="2.3" fill="#4a5cba"/>
<circle cx="589.70" cy="428.10" r="2.3" fill="#4a5cba"/>
<circle cx="592.10" cy="428.10" r="2.3" fill="#4a5cba"/>
<circle cx="614.85" cy="418.40" r="2.3" fill="#e4398e"/>
<circle cx="607.05" cy="428.10" r="2.3" fill="#e4398e"/>
<circle cx="609.65" cy="428.10" r="2.3" fill="#e4398e"/>
<circle cx="612.25" cy="428.10" r="2.3" fill="#e4398e"/>
<circle cx="614.85" cy="428.10" r="2.3" fill="#e4398e"/>
<circle cx="617.45" cy="428.10" r="2.3" fill="#e4398e"/>
<circle cx="620.05" cy="428.10" r="2.3" fill="#e4398e"/>
<circle cx="622.65" cy="428.10" r="2.3" fill="#e4398e"/>
<line x1="444.3" y1="418.40" x2="464.1" y2="418.40" stroke="#111" stroke-width="1.4"/>
<line x1="509.2" y1="418.40" x2="529.4" y2="418.40" stroke="#111" stroke-width="1.4"/>
<line x1="446.9" y1="443.5" x2="495.9" y2="443.5" stroke="#777" stroke-width="1"/>
<line x1="511.2" y1="443.5" x2="560.3" y2="443.5" stroke="#777" stroke-width="1"/>
<line x1="575.6" y1="443.5" x2="623.1" y2="443.5" stroke="#777" stroke-width="1"/>
<text x="470.10" y="459.80" font-size="13.6" font-weight="normal" text-anchor="middle" fill="#1a1a1a" >EpCAM+</text>
<text x="538.90" y="459.80" font-size="13.6" font-weight="normal" text-anchor="middle" fill="#1a1a1a" >HER2+</text>
<text x="539.30" y="476.60" font-size="13.6" font-weight="normal" text-anchor="middle" fill="#1a1a1a" >EpCAM+</text>
<text x="601.50" y="459.80" font-size="13.6" font-weight="normal" text-anchor="middle" fill="#1a1a1a" >HER2+</text>
<text x="537.30" y="500.50" font-size="15.6" font-weight="bold" text-anchor="middle" fill="#111" >Cell Phenotypes</text>
<text transform="translate(393.8,325.8) rotate(-90)" font-size="15.5" font-weight="bold" text-anchor="middle" fill="#111">Number of Flow+ Cells</text>
<text transform="translate(409.6,325.7) rotate(-90)" font-size="13.8" text-anchor="middle" fill="#1a1a1a">(per 0.5mL BMA)</text>
<circle cx="500.8" cy="232.4" r="3.4" fill="#4a5cba"/>
<circle cx="500.8" cy="248.2" r="3.4" fill="#e4398e"/>
<text x="510.40" y="236.80" font-size="12.5" font-weight="normal" text-anchor="start" fill="#1a1a1a" >PENN-SURMOUNT BMAs</text>
<text x="510.40" y="252.50" font-size="12.5" font-weight="normal" text-anchor="start" fill="#1a1a1a" >Control BMAs</text>
</svg></body></html>
